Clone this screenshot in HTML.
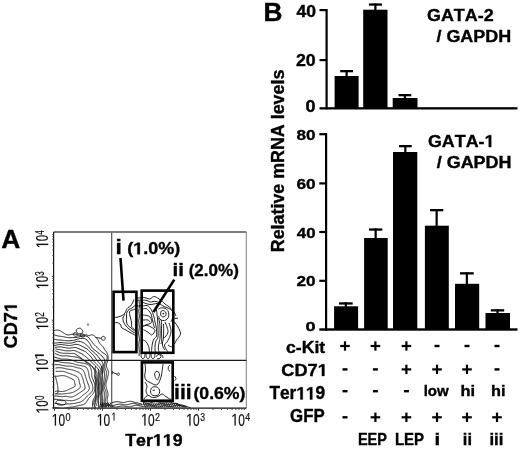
<!DOCTYPE html>
<html><head><meta charset="utf-8"><style>
html,body{margin:0;padding:0;background:#fff;}
svg{display:block;filter:grayscale(1);}
text{font-family:"Liberation Sans",sans-serif;}
text{font-kerning:none;}
.b text,.b path{stroke:#000;stroke-width:0.35px;}
.r text,.r path{stroke:#111;stroke-width:0.2px;}
</style></head><body>
<svg width="520" height="450" viewBox="0 0 520 450">
<rect width="520" height="450" fill="#fff"/>
<defs><clipPath id="plotclip"><rect x="54" y="233" width="191.5" height="174.8"/></clipPath></defs>
<g fill="none" stroke="#1a1a1a" stroke-width="0.95" stroke-linejoin="round" clip-path="url(#plotclip)">
<path d="M54.6 376.4 L54.7 376.5 L54.8 376.5 L54.9 376.5 L54.9 376.6 L55.0 376.6 L55.0 376.6 L55.0 376.6 L55.1 376.7 L55.1 376.7 L55.2 376.7 L55.2 376.7 L55.2 376.8 L55.3 376.8 L55.3 376.8 L55.3 376.9 L55.3 376.9 L55.4 376.9 L55.4 377.0 L55.4 377.0 L55.4 377.1 L55.5 377.1 L55.5 377.1 L55.5 377.2 L55.5 377.2 L55.6 377.2 L55.6 377.3 L55.6 377.3 L55.6 377.4 L55.6 377.4 L55.7 377.5 L55.7 377.5 L55.7 377.6 L55.7 377.6 L55.7 377.7 L55.7 377.7 L55.8 377.8 L55.8 377.8 L55.8 377.9 L55.8 377.9 L55.8 378.0 L55.9 378.1 L55.9 378.1 L55.9 378.2 L55.9 378.2 L55.9 378.3 L55.9 378.3 L56.0 378.4 L56.0 378.5 L56.0 378.5 L56.0 378.6 L56.0 378.7 L56.0 378.7 L56.0 378.8 L56.1 378.9 L56.1 379.0 L56.1 379.0 L56.1 379.1 L56.1 379.2 L56.1 379.3 L56.2 379.3 L56.2 379.4 L56.2 379.5 L56.2 379.6 L56.2 379.7 L56.2 379.7 L56.3 379.8 L56.3 379.9 L56.3 380.0 L56.3 380.1 L56.3 380.2 L56.4 380.3 L56.4 380.3 L56.4 380.4 L56.4 380.5 L56.5 380.6 L56.5 380.7 L56.5 380.8 L56.5 380.9 L56.5 381.0 L56.6 381.1 L56.6 381.2 L56.6 381.3 L56.7 381.4 L56.7 381.6 L56.7 381.7 L56.7 381.8 L56.8 381.9 L56.8 382.0 L56.8 382.2 L56.9 382.3 L56.9 382.4 L57.0 382.6 L57.0 382.7 L57.0 382.9 L57.1 383.0 L57.1 383.2 L57.2 383.4 L57.2 383.6 L57.3 383.9 L57.4 384.5 L57.5 385.0 L57.5 385.3 L57.6 385.6 L57.6 385.8 L57.6 386.1 L57.7 386.3 L57.7 386.5 L57.7 386.7 L57.7 386.9 L57.7 387.1 L57.8 387.3 L57.8 387.5 L57.8 387.7 L57.8 387.8 L57.8 388.0 L57.9 388.2 L57.9 388.3 L57.9 388.5 L57.9 388.6 L57.9 388.8 L57.9 388.9 L57.9 389.1 L58.0 389.2 L58.0 389.3 L58.0 389.5 L58.0 389.6 L58.0 389.7 L58.0 389.8 L58.0 390.0 L58.1 390.1 L58.1 390.2 L58.1 390.3 L58.1 390.4 L58.1 390.5 L58.1 390.6 L58.1 390.7 L58.1 390.8 L58.1 390.9 L58.1 391.0 L58.1 391.1 L58.1 391.2 L58.1 391.3 L58.1 391.4 L58.1 391.5 L58.1 391.6 L58.1 391.6 L58.1 391.7 L58.1 391.8 L58.1 391.9 L58.1 391.9 L58.1 392.0 L58.0 392.1 L58.0 392.1 L58.0 392.2 L58.0 392.3 L58.0 392.3 L57.9 392.4 L57.9 392.4 L57.9 392.5 L57.9 392.5 L57.8 392.6 L57.8 392.6 L57.8 392.7 L57.8 392.7 L57.7 392.8 L57.7 392.8 L57.7 392.9 L57.6 392.9 L57.6 392.9 L57.5 393.0 L57.5 393.0 L57.5 393.1 L57.4 393.1 L57.4 393.1 L57.3 393.1 L57.3 393.2 L57.2 393.2 L57.2 393.2 L57.1 393.3 L57.1 393.3 L57.0 393.3 L56.9 393.3 L56.9 393.4 L56.8 393.4 L56.8 393.4 L56.7 393.4 L56.6 393.5 L56.6 393.5 L56.5 393.5 L56.4 393.5 L56.3 393.5 L56.3 393.5 L56.2 393.6 L56.1 393.6 L56.0 393.6 L55.9 393.6 L55.7 393.6 L55.6 393.7 L55.3 393.7"/>
<path d="M54.8 375.8 L55.4 376.0 L55.7 376.2 L56.0 376.2 L56.4 376.3 L56.7 376.3 L57.0 376.3 L57.4 376.2 L57.8 376.2 L58.1 376.1 L58.5 376.1 L58.9 376.0 L59.4 375.9 L59.8 375.8 L60.2 375.8 L60.6 375.7 L61.0 375.7 L61.5 375.6 L61.9 375.6 L62.3 375.6 L62.7 375.6 L63.1 375.6 L63.5 375.7 L63.8 375.7 L64.2 375.8 L64.5 375.8 L64.9 375.9 L65.2 376.0 L65.5 376.0 L65.8 376.1 L66.1 376.2 L66.3 376.3 L66.6 376.4 L66.8 376.5 L67.1 376.6 L67.3 376.7 L67.5 376.8 L67.7 376.9 L67.9 377.0 L68.1 377.1 L68.3 377.2 L68.5 377.3 L68.7 377.4 L68.9 377.5 L69.1 377.6 L69.2 377.7 L69.4 377.7 L69.6 377.8 L69.8 377.9 L69.9 378.0 L70.1 378.0 L70.2 378.1 L70.4 378.2 L70.6 378.3 L70.7 378.3 L70.9 378.4 L71.0 378.5 L71.2 378.5 L71.3 378.6 L71.5 378.7 L71.6 378.7 L71.8 378.8 L71.9 378.9 L72.1 378.9 L72.2 379.0 L72.3 379.1 L72.5 379.2 L72.6 379.2 L72.7 379.3 L72.8 379.4 L73.0 379.4 L73.1 379.5 L73.2 379.6 L73.3 379.7 L73.4 379.8 L73.5 379.8 L73.6 379.9 L73.7 380.0 L73.8 380.1 L73.8 380.2 L73.9 380.3 L74.0 380.4 L74.1 380.5 L74.1 380.6 L74.2 380.7 L74.2 380.8 L74.3 380.9 L74.3 381.1 L74.4 381.2 L74.4 381.3 L74.5 381.4 L74.5 381.6 L74.6 381.7 L74.6 381.9 L74.6 382.1 L74.7 382.2 L74.7 382.4 L74.7 382.6 L74.8 382.9 L74.8 383.2 L74.9 383.7 L75.0 384.0 L75.0 384.2 L75.1 384.4 L75.1 384.5 L75.1 384.7 L75.1 384.8 L75.2 384.9 L75.2 385.1 L75.2 385.2 L75.2 385.3 L75.2 385.4 L75.1 385.5 L75.1 385.6 L75.1 385.7 L75.1 385.8 L75.0 385.9 L75.0 386.0 L75.0 386.1 L74.9 386.1 L74.9 386.2 L74.8 386.3 L74.7 386.4 L74.7 386.5 L74.6 386.5 L74.5 386.6 L74.4 386.7 L74.3 386.8 L74.2 386.8 L74.1 386.9 L74.0 387.0 L73.9 387.0 L73.8 387.1 L73.7 387.2 L73.5 387.3 L73.4 387.3 L73.2 387.4 L73.1 387.5 L72.9 387.5 L72.8 387.6 L72.6 387.7 L72.5 387.8 L72.3 387.8 L72.1 387.9 L71.9 388.0 L71.7 388.1 L71.5 388.2 L71.3 388.3 L71.1 388.4 L70.9 388.4 L70.7 388.5 L70.5 388.6 L70.3 388.7 L70.1 388.8 L69.9 388.9 L69.6 389.1 L69.4 389.2 L69.2 389.3 L69.0 389.4 L68.7 389.5 L68.5 389.6 L68.3 389.7 L68.0 389.8 L67.8 390.0 L67.6 390.1 L67.3 390.2 L67.1 390.3 L66.9 390.4 L66.6 390.5 L66.4 390.6 L66.1 390.7 L65.9 390.8 L65.6 390.9 L65.4 391.0 L65.1 391.1 L64.8 391.1 L64.5 391.2 L64.3 391.3 L64.0 391.3 L63.7 391.4 L63.3 391.4 L63.0 391.4 L62.7 391.5 L62.3 391.5 L62.0 391.5 L61.6 391.5 L61.3 391.5 L60.9 391.5 L60.5 391.4 L60.1 391.4 L59.7 391.4 L59.3 391.3 L58.9 391.3 L58.5 391.2 L58.1 391.2 L57.6 391.1 L57.2 391.1 L56.7 391.1 L56.2 391.2 L55.2 391.4"/>
<path d="M55.8 371.4 L56.8 371.3 L57.4 371.3 L57.8 371.3 L58.3 371.3 L58.7 371.3 L59.2 371.3 L59.7 371.3 L60.2 371.3 L60.6 371.3 L61.1 371.3 L61.6 371.3 L62.1 371.3 L62.6 371.4 L63.1 371.4 L63.5 371.5 L63.9 371.6 L64.4 371.7 L64.8 371.8 L65.1 371.9 L65.5 372.0 L65.9 372.2 L66.2 372.3 L66.5 372.4 L66.8 372.5 L67.2 372.7 L67.5 372.8 L67.7 372.9 L68.0 373.0 L68.3 373.1 L68.6 373.2 L68.9 373.3 L69.2 373.4 L69.5 373.5 L69.8 373.6 L70.1 373.7 L70.3 373.8 L70.6 373.9 L70.9 374.0 L71.2 374.1 L71.5 374.2 L71.7 374.3 L72.0 374.4 L72.3 374.5 L72.5 374.6 L72.8 374.7 L73.1 374.9 L73.3 375.0 L73.6 375.1 L73.8 375.1 L74.1 375.2 L74.3 375.3 L74.5 375.4 L74.7 375.5 L75.0 375.6 L75.2 375.7 L75.4 375.8 L75.6 375.9 L75.8 376.0 L76.0 376.1 L76.1 376.2 L76.3 376.3 L76.5 376.4 L76.7 376.5 L76.8 376.6 L77.0 376.7 L77.1 376.8 L77.2 376.9 L77.4 377.0 L77.5 377.1 L77.6 377.2 L77.7 377.3 L77.8 377.5 L77.9 377.6 L78.0 377.7 L78.1 377.9 L78.2 378.0 L78.3 378.1 L78.4 378.3 L78.5 378.4 L78.5 378.6 L78.6 378.8 L78.7 378.9 L78.7 379.1 L78.8 379.3 L78.8 379.5 L78.9 379.7 L78.9 379.8 L79.0 380.1 L79.0 380.3 L79.1 380.5 L79.1 380.7 L79.2 381.0 L79.2 381.2 L79.3 381.5 L79.3 381.7 L79.4 382.0 L79.4 382.4 L79.5 382.7 L79.6 383.2 L79.9 384.0 L80.0 384.4 L80.1 384.7 L80.2 385.0 L80.2 385.2 L80.3 385.4 L80.3 385.6 L80.3 385.8 L80.3 386.0 L80.3 386.2 L80.3 386.4 L80.3 386.5 L80.3 386.7 L80.3 386.8 L80.2 387.0 L80.2 387.1 L80.1 387.3 L80.1 387.4 L80.0 387.5 L79.9 387.7 L79.8 387.8 L79.7 387.9 L79.6 388.0 L79.5 388.2 L79.4 388.3 L79.3 388.4 L79.2 388.5 L79.1 388.7 L78.9 388.8 L78.8 388.9 L78.7 389.0 L78.5 389.1 L78.4 389.3 L78.2 389.4 L78.1 389.5 L77.9 389.6 L77.8 389.7 L77.6 389.8 L77.4 390.0 L77.2 390.1 L77.0 390.2 L76.9 390.3 L76.7 390.4 L76.5 390.6 L76.3 390.7 L76.1 390.8 L75.8 390.9 L75.6 391.0 L75.4 391.2 L75.2 391.3 L74.9 391.4 L74.7 391.5 L74.4 391.7 L74.2 391.8 L73.9 391.9 L73.7 392.0 L73.4 392.1 L73.1 392.2 L72.8 392.3 L72.5 392.5 L72.2 392.6 L71.9 392.7 L71.6 392.7 L71.3 392.8 L71.0 392.9 L70.7 393.0 L70.3 393.1 L70.0 393.1 L69.7 393.2 L69.4 393.2 L69.1 393.3 L68.7 393.3 L68.4 393.3 L68.1 393.4 L67.8 393.4 L67.5 393.4 L67.2 393.5 L66.9 393.5 L66.6 393.5 L66.3 393.5 L65.9 393.6 L65.6 393.6 L65.2 393.7 L64.9 393.7 L64.5 393.8 L64.1 393.8 L63.7 393.9 L63.3 393.9 L62.8 394.0 L62.4 394.0 L61.9 394.1 L61.4 394.1 L60.8 394.1 L60.3 394.0 L59.7 394.0 L59.0 393.9 L58.4 393.9 L57.6 393.8 L56.8 393.8 L55.3 394.0"/>
<path d="M55.5 368.1 L57.3 367.8 L58.2 367.7 L58.9 367.7 L59.5 367.7 L60.1 367.7 L60.7 367.8 L61.3 367.8 L61.9 367.9 L62.5 368.0 L63.0 368.1 L63.6 368.2 L64.1 368.3 L64.6 368.4 L65.0 368.5 L65.5 368.7 L66.0 368.8 L66.4 368.9 L66.8 369.0 L67.3 369.0 L67.7 369.1 L68.1 369.2 L68.6 369.3 L69.0 369.3 L69.4 369.4 L69.8 369.4 L70.2 369.5 L70.6 369.5 L71.0 369.6 L71.4 369.7 L71.8 369.7 L72.1 369.8 L72.4 369.9 L72.8 370.0 L73.1 370.1 L73.4 370.2 L73.7 370.3 L73.9 370.4 L74.2 370.5 L74.5 370.6 L74.7 370.7 L75.0 370.8 L75.3 370.9 L75.5 371.0 L75.8 371.1 L76.0 371.2 L76.2 371.3 L76.5 371.4 L76.7 371.5 L77.0 371.5 L77.2 371.6 L77.4 371.7 L77.7 371.8 L77.9 371.9 L78.1 372.0 L78.3 372.1 L78.6 372.2 L78.8 372.3 L79.0 372.4 L79.2 372.6 L79.4 372.7 L79.5 372.8 L79.7 373.0 L79.9 373.1 L80.1 373.3 L80.2 373.4 L80.4 373.6 L80.5 373.8 L80.7 374.0 L80.8 374.2 L81.0 374.4 L81.1 374.6 L81.2 374.8 L81.3 375.0 L81.5 375.2 L81.6 375.4 L81.7 375.7 L81.8 375.9 L81.9 376.2 L82.0 376.4 L82.1 376.7 L82.2 376.9 L82.3 377.2 L82.4 377.5 L82.5 377.7 L82.6 378.0 L82.7 378.3 L82.8 378.6 L82.9 378.9 L83.0 379.2 L83.1 379.6 L83.2 379.9 L83.3 380.2 L83.4 380.6 L83.5 381.0 L83.6 381.4 L83.7 381.8 L83.8 382.2 L83.9 382.7 L84.1 383.4 L84.5 384.5 L84.7 385.0 L84.8 385.5 L84.9 385.8 L85.0 386.2 L85.0 386.5 L85.1 386.7 L85.1 387.0 L85.1 387.2 L85.1 387.5 L85.1 387.7 L85.0 387.9 L85.0 388.1 L84.9 388.3 L84.9 388.5 L84.8 388.7 L84.7 388.9 L84.6 389.1 L84.4 389.2 L84.3 389.4 L84.2 389.6 L84.0 389.7 L83.8 389.9 L83.7 390.0 L83.5 390.2 L83.3 390.3 L83.1 390.5 L82.9 390.6 L82.7 390.8 L82.5 390.9 L82.3 391.1 L82.1 391.2 L81.8 391.4 L81.6 391.5 L81.4 391.6 L81.2 391.8 L80.9 391.9 L80.7 392.1 L80.5 392.2 L80.3 392.4 L80.0 392.5 L79.8 392.6 L79.6 392.8 L79.3 392.9 L79.1 393.1 L78.9 393.3 L78.6 393.4 L78.4 393.6 L78.1 393.7 L77.9 393.9 L77.6 394.1 L77.4 394.3 L77.1 394.5 L76.8 394.6 L76.6 394.8 L76.3 395.0 L76.0 395.2 L75.7 395.4 L75.4 395.6 L75.1 395.8 L74.7 395.9 L74.4 396.1 L74.1 396.3 L73.7 396.4 L73.4 396.6 L73.0 396.7 L72.7 396.8 L72.3 396.9 L71.9 397.0 L71.5 397.0 L71.1 397.0 L70.8 397.1 L70.4 397.1 L70.0 397.0 L69.6 397.0 L69.2 396.9 L68.8 396.8 L68.4 396.8 L68.0 396.7 L67.6 396.6 L67.2 396.5 L66.8 396.4 L66.4 396.4 L66.0 396.3 L65.6 396.3 L65.2 396.3 L64.8 396.3 L64.3 396.4 L63.9 396.5 L63.4 396.5 L62.9 396.6 L62.4 396.7 L61.9 396.7 L61.3 396.7 L60.6 396.6 L59.9 396.5 L59.0 396.3 L57.9 396.1 L56.7 396.0 L54.4 395.9"/>
<path d="M54.6 364.8 L57.1 364.7 L58.3 364.7 L59.2 364.8 L60.0 364.9 L60.7 365.0 L61.4 365.2 L62.0 365.3 L62.7 365.5 L63.3 365.6 L63.9 365.7 L64.5 365.8 L65.1 365.9 L65.7 365.9 L66.3 366.0 L66.8 366.0 L67.4 366.1 L67.9 366.1 L68.5 366.1 L69.0 366.1 L69.6 366.1 L70.1 366.2 L70.6 366.2 L71.1 366.2 L71.5 366.3 L72.0 366.3 L72.4 366.4 L72.8 366.5 L73.1 366.5 L73.5 366.6 L73.8 366.7 L74.1 366.8 L74.4 366.9 L74.6 367.0 L74.9 367.1 L75.2 367.2 L75.4 367.3 L75.7 367.4 L76.0 367.4 L76.3 367.5 L76.6 367.6 L76.9 367.6 L77.2 367.7 L77.6 367.8 L77.9 367.8 L78.3 367.9 L78.6 368.0 L79.0 368.1 L79.3 368.1 L79.7 368.2 L80.0 368.3 L80.3 368.4 L80.7 368.6 L81.0 368.7 L81.3 368.8 L81.6 369.0 L81.8 369.1 L82.1 369.3 L82.3 369.5 L82.6 369.7 L82.8 369.9 L83.0 370.1 L83.2 370.3 L83.3 370.5 L83.5 370.7 L83.7 371.0 L83.8 371.2 L83.9 371.5 L84.0 371.8 L84.2 372.0 L84.3 372.3 L84.4 372.6 L84.5 372.9 L84.6 373.2 L84.7 373.5 L84.8 373.8 L84.9 374.1 L85.0 374.4 L85.1 374.7 L85.2 375.0 L85.2 375.3 L85.3 375.6 L85.4 375.9 L85.5 376.3 L85.6 376.6 L85.7 376.9 L85.8 377.2 L85.9 377.5 L86.0 377.9 L86.1 378.2 L86.2 378.6 L86.3 378.9 L86.5 379.3 L86.6 379.7 L86.7 380.1 L86.9 380.6 L87.0 381.0 L87.2 381.6 L87.4 382.2 L87.7 382.9 L88.3 384.3 L88.6 385.0 L88.8 385.5 L88.9 385.9 L89.0 386.3 L89.1 386.7 L89.2 387.1 L89.3 387.4 L89.3 387.7 L89.3 388.0 L89.3 388.3 L89.3 388.6 L89.3 388.9 L89.2 389.1 L89.1 389.4 L89.0 389.7 L88.9 389.9 L88.8 390.1 L88.7 390.4 L88.5 390.6 L88.3 390.8 L88.1 391.0 L87.9 391.3 L87.7 391.5 L87.5 391.7 L87.3 391.9 L87.0 392.1 L86.8 392.3 L86.5 392.5 L86.2 392.7 L85.9 392.9 L85.7 393.1 L85.4 393.3 L85.1 393.5 L84.8 393.7 L84.6 393.9 L84.3 394.1 L84.0 394.4 L83.7 394.6 L83.5 394.8 L83.2 395.0 L83.0 395.2 L82.7 395.4 L82.5 395.6 L82.2 395.8 L82.0 396.0 L81.7 396.3 L81.5 396.5 L81.2 396.7 L81.0 396.9 L80.7 397.1 L80.4 397.3 L80.2 397.5 L79.9 397.7 L79.6 397.9 L79.3 398.2 L78.9 398.4 L78.6 398.6 L78.2 398.8 L77.9 399.0 L77.5 399.1 L77.1 399.3 L76.6 399.5 L76.2 399.7 L75.8 399.8 L75.3 400.0 L74.9 400.1 L74.4 400.3 L73.9 400.4 L73.4 400.5 L72.9 400.6 L72.5 400.7 L72.0 400.7 L71.5 400.7 L71.0 400.7 L70.5 400.7 L70.0 400.7 L69.6 400.6 L69.1 400.6 L68.6 400.5 L68.2 400.4 L67.7 400.4 L67.2 400.3 L66.8 400.3 L66.3 400.3 L65.8 400.3 L65.4 400.3 L64.9 400.4 L64.4 400.4 L63.9 400.5 L63.4 400.6 L62.9 400.6 L62.3 400.7 L61.7 400.6 L61.0 400.5 L60.2 400.3 L59.3 400.0 L58.1 399.7 L56.6 399.4 L54.1 399.2"/>
<path d="M54.2 361.1 L57.2 361.4 L58.6 361.7 L59.6 361.9 L60.4 362.1 L61.2 362.3 L61.9 362.4 L62.7 362.6 L63.4 362.7 L64.1 362.8 L64.8 362.8 L65.4 362.8 L66.1 362.9 L66.8 362.9 L67.4 362.9 L68.1 363.0 L68.7 363.0 L69.3 363.1 L70.0 363.1 L70.6 363.2 L71.1 363.3 L71.7 363.4 L72.2 363.5 L72.6 363.6 L73.1 363.7 L73.5 363.8 L73.8 363.9 L74.2 364.1 L74.5 364.2 L74.8 364.3 L75.1 364.4 L75.4 364.6 L75.7 364.7 L76.1 364.8 L76.4 364.9 L76.8 365.0 L77.2 365.0 L77.6 365.1 L78.0 365.2 L78.4 365.2 L78.8 365.3 L79.3 365.4 L79.8 365.4 L80.2 365.5 L80.7 365.6 L81.2 365.6 L81.6 365.7 L82.1 365.8 L82.5 365.9 L82.9 366.0 L83.3 366.1 L83.7 366.2 L84.1 366.3 L84.5 366.4 L84.8 366.6 L85.1 366.7 L85.4 366.9 L85.7 367.1 L86.0 367.2 L86.2 367.4 L86.5 367.6 L86.7 367.8 L86.9 368.0 L87.1 368.3 L87.2 368.5 L87.4 368.8 L87.5 369.1 L87.6 369.4 L87.7 369.7 L87.9 370.0 L88.0 370.3 L88.1 370.6 L88.1 371.0 L88.2 371.3 L88.3 371.7 L88.4 372.0 L88.5 372.4 L88.5 372.7 L88.6 373.1 L88.7 373.4 L88.7 373.8 L88.8 374.1 L88.8 374.5 L88.9 374.8 L89.0 375.1 L89.0 375.4 L89.1 375.7 L89.1 376.1 L89.2 376.4 L89.3 376.7 L89.3 377.0 L89.4 377.4 L89.5 377.7 L89.7 378.1 L89.8 378.5 L90.0 379.0 L90.2 379.5 L90.5 380.1 L90.8 380.9 L91.2 381.8 L91.9 383.5 L92.3 384.4 L92.5 385.1 L92.6 385.7 L92.7 386.2 L92.8 386.7 L92.9 387.1 L92.9 387.6 L92.9 388.0 L92.9 388.4 L92.8 388.8 L92.8 389.2 L92.7 389.5 L92.6 389.9 L92.5 390.2 L92.4 390.5 L92.2 390.9 L92.1 391.2 L91.9 391.5 L91.7 391.8 L91.5 392.0 L91.3 392.3 L91.1 392.6 L90.8 392.8 L90.6 393.1 L90.3 393.3 L90.0 393.6 L89.8 393.9 L89.5 394.1 L89.2 394.4 L88.9 394.6 L88.6 394.9 L88.3 395.1 L88.0 395.4 L87.7 395.7 L87.4 395.9 L87.1 396.2 L86.8 396.5 L86.5 396.8 L86.2 397.1 L85.9 397.4 L85.7 397.7 L85.4 398.0 L85.2 398.2 L84.9 398.5 L84.7 398.8 L84.4 399.1 L84.2 399.4 L84.0 399.6 L83.7 399.9 L83.5 400.1 L83.2 400.3 L83.0 400.5 L82.7 400.7 L82.4 400.9 L82.1 401.1 L81.8 401.3 L81.4 401.5 L81.1 401.6 L80.7 401.8 L80.3 401.9 L79.8 402.1 L79.4 402.2 L78.9 402.4 L78.4 402.5 L77.9 402.6 L77.4 402.8 L76.9 402.9 L76.4 403.0 L75.8 403.1 L75.3 403.2 L74.8 403.4 L74.2 403.5 L73.6 403.6 L73.1 403.6 L72.5 403.7 L71.9 403.8 L71.3 403.8 L70.7 403.8 L70.1 403.9 L69.6 403.9 L69.0 403.9 L68.4 403.9 L67.8 403.9 L67.3 403.9 L66.7 404.0 L66.1 404.1 L65.6 404.2 L65.0 404.3 L64.4 404.5 L63.8 404.6 L63.1 404.6 L62.4 404.6 L61.7 404.6 L60.9 404.4 L60.1 404.2 L59.1 403.9 L58.0 403.7 L56.7 403.5 L54.6 403.3"/>
<path d="M54.2 357.0 L57.3 357.9 L58.8 358.4 L59.9 358.7 L60.8 359.0 L61.7 359.1 L62.4 359.1 L63.2 359.2 L63.9 359.1 L64.7 359.1 L65.4 359.1 L66.1 359.1 L66.9 359.1 L67.6 359.2 L68.3 359.3 L69.0 359.4 L69.6 359.5 L70.3 359.7 L70.9 359.9 L71.5 360.0 L72.1 360.2 L72.6 360.4 L73.1 360.6 L73.6 360.8 L74.0 360.9 L74.4 361.1 L74.8 361.3 L75.2 361.5 L75.5 361.6 L75.9 361.8 L76.3 361.9 L76.7 362.0 L77.1 362.2 L77.5 362.3 L77.9 362.4 L78.4 362.5 L78.8 362.6 L79.3 362.6 L79.8 362.7 L80.3 362.8 L80.8 362.8 L81.3 362.9 L81.8 363.0 L82.3 363.1 L82.8 363.1 L83.2 363.2 L83.7 363.3 L84.2 363.4 L84.6 363.5 L85.0 363.6 L85.5 363.7 L85.9 363.8 L86.3 363.9 L86.6 364.1 L87.0 364.2 L87.3 364.3 L87.7 364.5 L88.0 364.6 L88.3 364.8 L88.5 365.0 L88.8 365.1 L89.0 365.3 L89.2 365.5 L89.4 365.7 L89.6 366.0 L89.8 366.2 L90.0 366.5 L90.2 366.8 L90.3 367.1 L90.4 367.4 L90.6 367.7 L90.7 368.1 L90.8 368.4 L90.9 368.8 L91.1 369.2 L91.2 369.6 L91.3 370.1 L91.3 370.5 L91.4 370.9 L91.5 371.4 L91.6 371.8 L91.6 372.3 L91.7 372.7 L91.7 373.1 L91.7 373.5 L91.7 373.9 L91.7 374.3 L91.7 374.7 L91.7 375.0 L91.7 375.4 L91.8 375.8 L91.8 376.1 L91.9 376.5 L92.0 376.9 L92.1 377.4 L92.3 377.8 L92.5 378.4 L92.8 379.1 L93.2 379.9 L93.7 381.0 L94.4 383.2 L94.7 384.4 L94.9 385.3 L95.0 386.0 L95.0 386.7 L95.0 387.3 L95.0 387.9 L95.0 388.5 L94.9 389.0 L94.8 389.5 L94.7 389.9 L94.6 390.4 L94.5 390.8 L94.3 391.3 L94.2 391.7 L94.0 392.0 L93.9 392.4 L93.7 392.8 L93.5 393.1 L93.2 393.4 L93.0 393.7 L92.7 394.1 L92.5 394.4 L92.2 394.7 L91.9 395.0 L91.6 395.3 L91.3 395.6 L91.0 395.9 L90.7 396.2 L90.4 396.6 L90.1 396.9 L89.7 397.3 L89.4 397.7 L89.1 398.0 L88.8 398.4 L88.5 398.8 L88.3 399.2 L88.0 399.6 L87.7 400.0 L87.5 400.4 L87.2 400.8 L87.0 401.1 L86.8 401.5 L86.5 401.8 L86.3 402.1 L86.1 402.4 L85.9 402.7 L85.7 403.0 L85.5 403.2 L85.3 403.4 L85.0 403.6 L84.8 403.8 L84.5 404.0 L84.2 404.2 L83.9 404.3 L83.6 404.4 L83.2 404.6 L82.9 404.7 L82.5 404.8 L82.1 404.9 L81.6 405.0 L81.2 405.1 L80.7 405.2 L80.2 405.3 L79.8 405.3 L79.3 405.4 L78.8 405.6 L78.3 405.7 L77.8 405.8 L77.3 405.9 L76.8 406.0 L76.3 406.2 L75.8 406.3 L75.3 406.4 L74.8 406.6 L74.2 406.7 L73.6 406.8 L73.1 406.9 L72.5 407.0 L71.9 407.1 L71.3 407.1 L70.7 407.2 L70.0 407.2 L69.4 407.3 L68.8 407.3 L68.2 407.4 L67.5 407.5 L66.8 407.6 L66.1 407.8 L65.3 407.9 L64.5 408.1 L63.7 408.3 L62.8 408.4 L61.8 408.4 L60.9 408.3 L59.9 408.1 L58.9 407.9 L57.8 407.7 L56.5 407.6 L54.2 407.5"/>
<path d="M54.8 353.4 L55.3 353.6 L56.1 353.9 L56.9 354.3 L57.8 354.7 L58.7 355.0 L59.5 355.4 L60.3 355.6 L61.0 355.8 L61.7 355.9 L62.3 356.0 L63.0 355.9 L63.6 355.9 L64.3 355.9 L65.0 355.9 L65.7 355.8 L66.5 355.8 L67.3 355.9 L68.1 356.0 L69.0 356.1 L69.9 356.2 L70.8 356.4 L71.7 356.5 L72.6 356.6 L73.4 356.7 L74.3 356.8 L75.1 356.9 L76.0 357.1 L76.9 357.2 L77.8 357.4 L78.7 357.7 L79.6 358.1 L80.5 358.6 L81.4 359.1 L82.4 359.7 L83.3 360.3 L84.2 360.9 L85.1 361.6 L86.1 362.2 L87.0 362.8 L87.9 363.3 L88.7 363.8 L89.5 364.4 L90.3 365.0 L91.0 365.7 L91.8 366.5 L92.5 367.3 L93.2 368.2 L93.9 369.2 L94.5 370.1 L94.9 370.9 L95.2 371.7 L95.3 372.4 L95.3 373.0 L95.2 373.6 L95.1 374.1 L94.9 374.6 L94.7 375.1 L94.6 375.5 L94.5 376.0 L94.5 376.4 L94.5 376.9 L94.6 377.4 L94.7 377.9 L94.9 378.5 L95.1 379.0 L95.2 379.6 L95.4 380.3 L95.6 380.9 L95.7 381.6 L95.9 382.3 L96.0 383.0 L96.1 383.7 L96.2 384.4 L96.2 385.1 L96.2 385.7 L96.2 386.4 L96.2 387.0 L96.1 387.7 L96.1 388.3 L96.1 388.9 L96.0 389.5 L96.0 390.1 L96.0 390.8 L96.0 391.4 L96.0 392.0 L95.9 392.6 L95.9 393.2 L95.8 393.8 L95.7 394.4 L95.5 395.0 L95.3 395.6 L95.1 396.2 L94.8 396.8 L94.5 397.4 L94.1 398.1 L93.8 398.7 L93.5 399.4 L93.2 400.1 L93.0 400.8 L92.8 401.6 L92.6 402.4 L92.5 403.2 L92.5 404.1 L92.5 405.0 L92.6 405.8 L92.7 406.6 L92.8 407.2 L92.8 407.8 L92.8 408.3 L92.9 408.6"/>
<path d="M55.3 350.8 L55.9 351.0 L56.6 351.3 L57.3 351.6 L58.1 352.0 L59.0 352.3 L59.7 352.6 L60.5 352.8 L61.2 353.0 L61.8 353.1 L62.5 353.2 L63.1 353.3 L63.7 353.3 L64.4 353.3 L65.1 353.3 L65.8 353.3 L66.6 353.3 L67.4 353.3 L68.1 353.3 L68.9 353.4 L69.7 353.4 L70.4 353.5 L71.0 353.5 L71.6 353.4 L72.2 353.4 L72.8 353.4 L73.3 353.4 L73.9 353.5 L74.5 353.7 L75.2 354.0 L76.0 354.5 L76.9 355.1 L77.9 355.8 L78.9 356.5 L80.0 357.3 L81.2 358.2 L82.4 359.1 L83.6 359.9 L84.9 360.8 L86.1 361.6 L87.3 362.3 L88.4 363.0 L89.5 363.7 L90.6 364.5 L91.5 365.4 L92.4 366.4 L93.4 367.5 L94.4 368.7 L95.3 369.9 L96.0 370.9 L96.5 371.8 L96.8 372.6 L97.0 373.3 L97.0 373.9 L96.9 374.4 L96.8 374.9 L96.6 375.4 L96.4 375.8 L96.3 376.3 L96.2 376.7 L96.2 377.2 L96.3 377.7 L96.3 378.2 L96.4 378.8 L96.5 379.3 L96.6 379.9 L96.7 380.6 L96.7 381.2 L96.8 381.9 L96.9 382.6 L97.0 383.4 L97.1 384.1 L97.2 384.8 L97.3 385.5 L97.4 386.2 L97.4 386.9 L97.5 387.6 L97.5 388.2 L97.5 388.9 L97.5 389.5 L97.4 390.1 L97.4 390.8 L97.3 391.4 L97.3 392.0 L97.2 392.7 L97.1 393.3 L97.0 393.9 L96.9 394.6 L96.7 395.2 L96.6 395.8 L96.4 396.5 L96.1 397.1 L95.9 397.7 L95.5 398.3 L95.2 398.9 L94.9 399.5 L94.6 400.1 L94.3 400.7 L94.0 401.4 L93.9 402.1 L93.8 402.8 L93.8 403.5 L93.9 404.2 L94.1 405.0 L94.4 405.7 L94.6 406.4 L94.9 407.0 L95.1 407.5 L95.3 408.0 L95.4 408.4 L95.5 408.7"/>
<path d="M55.4 348.7 L55.9 348.9 L56.6 349.1 L57.3 349.3 L58.1 349.4 L58.9 349.6 L59.6 349.7 L60.4 349.8 L61.2 349.9 L61.9 350.0 L62.6 350.2 L63.2 350.3 L63.9 350.5 L64.6 350.6 L65.4 350.7 L66.1 350.8 L66.9 350.8 L67.7 350.8 L68.4 350.8 L69.2 350.8 L70.0 350.8 L70.7 350.8 L71.4 350.7 L72.1 350.6 L72.8 350.5 L73.4 350.5 L74.1 350.6 L74.8 350.7 L75.5 350.9 L76.4 351.3 L77.3 351.7 L78.4 352.2 L79.6 352.8 L80.8 353.3 L82.0 354.0 L83.2 354.7 L84.3 355.6 L85.5 356.5 L86.6 357.4 L87.7 358.4 L88.7 359.3 L89.7 360.2 L90.7 361.1 L91.7 362.2 L92.6 363.2 L93.6 364.2 L94.6 365.2 L95.7 366.2 L96.6 367.2 L97.5 368.2 L98.2 369.1 L98.7 370.0 L99.0 370.7 L99.1 371.3 L99.1 371.9 L99.0 372.5 L98.8 373.0 L98.6 373.6 L98.4 374.1 L98.2 374.6 L98.0 375.1 L97.9 375.7 L97.7 376.2 L97.6 376.7 L97.5 377.2 L97.4 377.7 L97.4 378.2 L97.4 378.7 L97.4 379.3 L97.5 379.9 L97.6 380.5 L97.7 381.2 L97.9 381.9 L98.0 382.6 L98.2 383.4 L98.3 384.1 L98.4 384.9 L98.5 385.6 L98.6 386.3 L98.7 387.0 L98.7 387.7 L98.7 388.3 L98.7 388.9 L98.7 389.6 L98.7 390.2 L98.6 390.8 L98.6 391.4 L98.5 392.1 L98.4 392.7 L98.3 393.4 L98.2 394.0 L98.1 394.7 L97.9 395.4 L97.7 396.0 L97.5 396.6 L97.2 397.2 L96.9 397.9 L96.7 398.5 L96.4 399.1 L96.2 399.7 L96.0 400.3 L95.9 401.0 L95.8 401.7 L95.8 402.4 L95.9 403.1 L96.1 403.8 L96.3 404.4 L96.5 404.9 L96.7 405.4 L96.9 405.8 L97.0 406.1"/>
<path d="M54.9 347.1 L55.3 347.2 L55.9 347.2 L56.6 347.2 L57.4 347.1 L58.2 347.0 L59.0 346.9 L59.9 346.9 L60.7 346.9 L61.5 346.9 L62.3 347.1 L63.1 347.2 L63.9 347.4 L64.7 347.6 L65.5 347.7 L66.3 347.9 L67.1 348.0 L67.9 348.0 L68.8 348.1 L69.6 348.1 L70.4 348.0 L71.2 348.0 L72.0 347.8 L72.8 347.7 L73.6 347.6 L74.3 347.5 L75.1 347.5 L75.9 347.6 L76.8 347.9 L77.8 348.3 L79.0 348.8 L80.3 349.4 L81.6 349.9 L82.9 350.5 L84.2 351.0 L85.4 351.6 L86.4 352.3 L87.4 353.2 L88.4 354.2 L89.4 355.2 L90.3 356.1 L91.2 357.2 L92.2 358.4 L93.1 359.8 L94.0 361.3 L95.0 362.5 L96.0 363.6 L97.0 364.6 L97.9 365.4 L98.7 366.2 L99.4 367.0 L99.9 367.7 L100.3 368.4 L100.5 369.0 L100.7 369.5 L100.7 370.1 L100.7 370.6 L100.6 371.1 L100.5 371.6 L100.3 372.1 L100.2 372.7 L100.1 373.3 L99.9 373.8 L99.7 374.4 L99.5 375.0 L99.2 375.6 L99.0 376.1 L98.9 376.7 L98.7 377.2 L98.7 377.7 L98.6 378.3 L98.7 378.9 L98.7 379.5 L98.8 380.1 L98.9 380.8 L99.1 381.5 L99.2 382.2 L99.3 382.9 L99.4 383.6 L99.5 384.3 L99.6 385.0 L99.6 385.7 L99.7 386.4 L99.8 387.0 L99.9 387.7 L99.9 388.3 L100.0 388.9 L100.0 389.5 L100.0 390.0 L100.0 390.6 L99.9 391.3 L99.8 391.9 L99.7 392.5 L99.5 393.2 L99.3 393.9 L99.1 394.6 L98.9 395.3 L98.7 395.9 L98.6 396.6 L98.4 397.3 L98.3 398.0 L98.2 398.6 L98.1 399.3 L98.1 399.9 L98.1 400.5 L98.1 401.1 L98.1 401.7 L98.2 402.3 L98.3 402.9 L98.5 403.4 L98.6 403.9 L98.7 404.4 L98.9 405.0 L99.0 405.6 L99.1 406.1 L99.2 406.7 L99.3 407.2 L99.3 407.7 L99.3 408.2 L99.4 408.6 L99.4 408.9"/>
<path d="M54.0 345.4 L54.4 345.4 L55.0 345.4 L55.7 345.3 L56.5 345.1 L57.3 344.9 L58.3 344.7 L59.2 344.6 L60.2 344.5 L61.2 344.5 L62.1 344.6 L62.9 344.7 L63.7 344.8 L64.5 344.9 L65.3 345.1 L66.1 345.2 L66.9 345.3 L67.8 345.4 L68.7 345.5 L69.6 345.5 L70.5 345.4 L71.4 345.3 L72.4 345.1 L73.3 344.9 L74.2 344.6 L75.1 344.4 L76.1 344.3 L77.2 344.4 L78.3 344.6 L79.6 345.1 L80.9 345.7 L82.2 346.4 L83.6 347.1 L84.9 347.8 L86.0 348.4 L87.1 349.0 L88.0 349.8 L88.8 350.6 L89.6 351.4 L90.5 352.3 L91.4 353.2 L92.4 354.2 L93.5 355.4 L94.6 356.8 L95.6 358.4 L96.6 359.8 L97.6 361.1 L98.6 362.3 L99.4 363.2 L100.1 364.1 L100.7 364.9 L101.1 365.6 L101.4 366.2 L101.5 366.8 L101.7 367.3 L101.7 367.8 L101.8 368.3 L101.8 368.8 L101.8 369.3 L101.8 369.8 L101.8 370.3 L101.8 370.9 L101.8 371.4 L101.7 372.0 L101.6 372.6 L101.4 373.1 L101.2 373.7 L101.0 374.3 L100.8 374.9 L100.6 375.5 L100.5 376.1 L100.4 376.7 L100.4 377.3 L100.4 377.9 L100.4 378.6 L100.5 379.2 L100.5 379.9 L100.6 380.5 L100.6 381.2 L100.6 381.9 L100.6 382.6 L100.6 383.2 L100.7 383.9 L100.7 384.6 L100.8 385.3 L100.8 385.9 L100.9 386.5 L101.0 387.1 L101.1 387.7 L101.2 388.3 L101.2 388.8 L101.3 389.4 L101.2 389.9 L101.2 390.5 L101.1 391.1 L100.9 391.7 L100.8 392.4 L100.6 393.0 L100.5 393.7 L100.3 394.4 L100.2 395.1 L100.2 395.8 L100.2 396.5 L100.2 397.2 L100.2 397.9 L100.2 398.6 L100.3 399.2 L100.4 399.9 L100.4 400.5 L100.5 401.1 L100.5 401.6 L100.6 402.2 L100.6 402.8 L100.6 403.4 L100.7 404.0 L100.8 404.6 L100.8 405.1 L100.9 405.6 L100.9 406.1 L101.0 406.5 L101.0 406.8"/>
<path d="M53.3 343.0 L53.8 343.0 L54.4 343.1 L55.1 343.0 L55.9 343.0 L56.8 342.9 L57.8 342.8 L58.9 342.7 L60.0 342.6 L61.0 342.6 L62.0 342.7 L62.9 342.7 L63.7 342.8 L64.5 342.9 L65.3 343.0 L66.1 343.0 L66.9 343.1 L67.7 343.2 L68.6 343.2 L69.6 343.2 L70.6 343.2 L71.7 343.0 L72.8 342.8 L73.9 342.4 L75.0 342.0 L76.2 341.6 L77.4 341.3 L78.9 341.3 L80.4 341.5 L81.9 342.0 L83.4 342.7 L84.6 343.5 L85.8 344.4 L86.9 345.3 L87.8 346.1 L88.5 346.9 L89.2 347.7 L89.8 348.5 L90.4 349.3 L91.1 350.1 L92.0 350.8 L93.1 351.6 L94.3 352.7 L95.6 353.9 L96.9 355.2 L98.0 356.6 L99.1 357.9 L100.1 359.1 L101.0 360.3 L101.7 361.3 L102.2 362.2 L102.6 363.0 L102.8 363.6 L102.9 364.3 L102.9 364.9 L102.8 365.4 L102.8 366.0 L102.7 366.5 L102.7 367.0 L102.7 367.5 L102.8 368.1 L102.9 368.6 L102.9 369.1 L103.0 369.7 L103.0 370.2 L103.0 370.7 L102.9 371.3 L102.9 371.8 L102.8 372.4 L102.7 372.9 L102.6 373.5 L102.5 374.1 L102.5 374.7 L102.5 375.3 L102.4 376.0 L102.4 376.6 L102.4 377.3 L102.4 377.9 L102.4 378.6 L102.4 379.3 L102.4 380.0 L102.3 380.7 L102.2 381.4 L102.2 382.1 L102.1 382.8 L102.1 383.4 L102.0 384.1 L102.0 384.7 L102.0 385.4 L102.0 386.0 L102.1 386.6 L102.2 387.2 L102.2 387.7 L102.2 388.2 L102.3 388.8 L102.3 389.3 L102.3 389.8 L102.3 390.4 L102.2 390.9 L102.2 391.5 L102.2 392.1 L102.1 392.7 L102.1 393.3 L102.2 394.0 L102.2 394.7 L102.2 395.3 L102.3 396.0 L102.4 396.7 L102.4 397.4 L102.4 398.0 L102.5 398.7 L102.5 399.3 L102.5 400.0 L102.4 400.6 L102.4 401.2 L102.4 401.7 L102.4 402.3 L102.5 402.8 L102.5 403.3 L102.5 403.9 L102.5 404.4 L102.5 404.9 L102.5 405.6 L102.5 406.2 L102.4 406.8 L102.3 407.5 L102.2 408.1 L102.0 408.7 L101.9 409.3 L101.8 409.7 L101.7 410.1"/>
<path d="M53.4 339.0 L53.8 339.1 L54.4 339.3 L55.1 339.5 L55.9 339.7 L56.9 339.8 L57.8 339.9 L58.9 340.0 L59.9 340.0 L60.9 340.1 L61.9 340.2 L62.8 340.3 L63.7 340.4 L64.5 340.5 L65.3 340.6 L66.1 340.7 L66.9 340.8 L67.8 340.8 L68.8 340.8 L69.9 340.8 L71.0 340.7 L72.3 340.5 L73.6 340.3 L74.9 340.0 L76.2 339.6 L77.5 339.1 L79.1 338.7 L80.9 338.3 L82.7 338.3 L84.4 338.6 L85.8 339.2 L87.0 340.1 L88.0 341.1 L88.9 342.3 L89.7 343.4 L90.3 344.4 L90.8 345.4 L91.3 346.3 L91.7 347.2 L92.3 348.0 L93.1 348.8 L94.1 349.6 L95.3 350.5 L96.7 351.6 L98.1 352.7 L99.5 353.8 L100.7 354.9 L101.8 356.0 L102.8 357.0 L103.6 357.9 L104.2 358.8 L104.5 359.6 L104.7 360.3 L104.8 360.9 L104.7 361.6 L104.6 362.2 L104.4 362.8 L104.2 363.3 L104.0 363.9 L103.9 364.5 L103.8 365.0 L103.8 365.6 L103.8 366.2 L103.8 366.8 L103.8 367.3 L103.8 367.9 L103.9 368.4 L103.9 369.0 L104.0 369.5 L104.1 370.0 L104.2 370.6 L104.2 371.1 L104.3 371.6 L104.4 372.1 L104.4 372.7 L104.5 373.2 L104.5 373.8 L104.5 374.4 L104.5 375.0 L104.5 375.7 L104.4 376.3 L104.3 377.0 L104.3 377.7 L104.2 378.4 L104.1 379.1 L104.0 379.8 L103.9 380.6 L103.8 381.3 L103.7 382.0 L103.6 382.7 L103.5 383.4 L103.4 384.1 L103.3 384.7 L103.2 385.4 L103.2 386.0 L103.1 386.6 L103.1 387.1 L103.2 387.7 L103.2 388.2 L103.3 388.7 L103.4 389.3 L103.5 389.8 L103.7 390.3 L103.8 390.8 L103.9 391.3 L104.1 391.8 L104.2 392.4 L104.2 393.0 L104.3 393.5 L104.3 394.1 L104.3 394.8 L104.3 395.4 L104.3 396.1 L104.3 396.7 L104.3 397.4 L104.2 398.0 L104.2 398.7 L104.2 399.3 L104.1 399.9 L104.1 400.5 L104.1 401.1 L104.0 401.6 L104.0 402.3 L104.0 402.9 L104.0 403.6 L103.9 404.2 L103.9 404.9 L103.8 405.5 L103.8 406.0 L103.7 406.5 L103.7 406.9"/>
<path d="M53.5 334.6 L53.9 334.7 L54.5 334.9 L55.2 335.2 L55.9 335.4 L56.8 335.7 L57.7 335.9 L58.7 336.1 L59.6 336.2 L60.6 336.3 L61.6 336.5 L62.5 336.6 L63.3 336.7 L64.1 336.9 L64.9 337.1 L65.7 337.2 L66.5 337.4 L67.5 337.5 L68.6 337.6 L69.8 337.7 L71.1 337.7 L72.7 337.6 L74.3 337.5 L75.8 337.4 L77.2 337.3 L78.6 337.0 L80.2 336.6 L82.2 336.2 L84.1 335.9 L85.7 335.9 L87.0 336.3 L88.1 337.1 L89.1 338.1 L90.0 339.3 L90.9 340.5 L91.8 341.6 L92.6 342.7 L93.4 343.7 L94.1 344.6 L94.9 345.4 L95.8 346.3 L96.9 347.2 L98.0 348.3 L99.1 349.5 L100.2 350.6 L101.4 351.6 L102.6 352.5 L103.8 353.3 L104.9 354.0 L105.8 354.7 L106.4 355.5 L106.9 356.2 L107.1 356.8 L107.2 357.4 L107.2 358.0 L107.0 358.6 L106.8 359.1 L106.6 359.7 L106.3 360.3 L106.1 360.9 L105.9 361.5 L105.7 362.2 L105.5 362.8 L105.3 363.4 L105.1 364.1 L105.0 364.7 L104.9 365.3 L104.8 365.9 L104.8 366.4 L104.8 367.0 L104.9 367.6 L105.1 368.1 L105.2 368.6 L105.4 369.2 L105.7 369.7 L105.9 370.2 L106.0 370.7 L106.2 371.2 L106.3 371.7 L106.3 372.3 L106.4 372.8 L106.3 373.4 L106.3 373.9 L106.3 374.5 L106.2 375.1 L106.2 375.8 L106.1 376.5 L106.0 377.2 L105.9 377.9 L105.8 378.6 L105.7 379.3 L105.5 380.1 L105.3 380.8 L105.1 381.5 L104.9 382.2 L104.7 383.0 L104.6 383.7 L104.4 384.3 L104.3 385.0 L104.2 385.7 L104.2 386.3 L104.3 386.9 L104.4 387.5 L104.5 388.1 L104.7 388.6 L104.9 389.2 L105.1 389.7 L105.3 390.2 L105.5 390.7 L105.7 391.2 L105.8 391.7 L105.9 392.2 L106.0 392.7 L106.1 393.2 L106.1 393.7 L106.1 394.3 L106.1 394.8 L106.1 395.4 L106.1 396.0 L106.1 396.6 L106.0 397.2 L105.9 397.8 L105.8 398.4 L105.7 399.0 L105.5 399.6 L105.4 400.2 L105.3 400.8 L105.2 401.4 L105.2 402.0 L105.2 402.5 L105.2 403.1 L105.3 403.7 L105.4 404.3 L105.5 405.0 L105.6 405.7 L105.7 406.5 L105.8 407.2 L105.9 407.9 L105.9 408.5 L105.9 409.1 L105.9 409.5"/>
<path d="M53.3 330.8 L53.7 330.7 L54.1 330.6 L54.6 330.5 L55.1 330.4 L55.7 330.2 L56.4 330.1 L57.1 330.1 L57.8 330.1 L58.5 330.1 L59.2 330.3 L59.9 330.5 L60.6 330.9 L61.3 331.3 L62.1 331.9 L62.9 332.4 L63.7 333.0 L64.5 333.5 L65.4 334.0 L66.3 334.5 L67.2 334.8 L68.0 334.9 L68.9 334.9 L69.7 334.8 L70.5 334.6 L71.3 334.5 L72.1 334.3 L73.0 334.1 L74.0 334.1 L74.9 334.1 L75.9 334.3 L76.8 334.5 L77.8 334.8 L78.8 335.1 L80.1 335.2 L81.5 335.2 L83.1 335.0 L84.5 334.9 L85.8 334.9 L86.8 335.0 L87.6 335.3 L88.2 335.5 L88.8 335.6 L89.3 335.6 L89.7 335.5 L90.0 335.3 L90.4 335.2 L90.7 335.0 L91.1 334.9 L91.5 334.8 L91.9 334.8 L92.5 334.9 L93.0 335.1 L93.5 335.4 L94.1 335.8 L94.6 336.1 L95.2 336.6 L95.7 337.0 L96.2 337.5 L96.6 338.0 L97.0 338.5 L97.4 338.9 L97.7 339.4 L98.0 340.0 L98.3 340.5 L98.5 341.0 L98.7 341.6 L99.0 342.1 L99.3 342.6 L99.6 343.1 L100.0 343.6 L100.4 344.1 L100.9 344.6 L101.4 345.1 L101.8 345.5 L102.3 346.0 L102.8 346.5 L103.2 347.0 L103.5 347.5 L103.8 347.9 L104.0 348.4 L104.2 348.8 L104.4 349.2 L104.7 349.6 L104.9 349.9 L105.1 350.3 L105.4 350.6 L105.7 350.9 L106.0 351.3 L106.3 351.7 L106.6 352.1 L106.9 352.7 L107.2 353.3 L107.5 354.0 L107.7 354.8 L107.9 355.6 L108.0 356.4 L108.1 357.2 L108.1 358.0 L108.1 358.7 L108.1 359.5 L107.9 360.2 L107.7 360.8 L107.5 361.5 L107.3 362.2 L107.0 362.8 L106.8 363.4 L106.6 364.1 L106.5 364.7 L106.4 365.3 L106.4 365.9 L106.5 366.4 L106.6 367.0 L106.8 367.6 L107.1 368.2 L107.3 368.7 L107.6 369.2 L107.9 369.8 L108.1 370.3 L108.2 370.8 L108.3 371.3 L108.4 371.8 L108.4 372.4 L108.4 372.9 L108.4 373.4 L108.3 374.0 L108.2 374.6 L108.1 375.2 L108.0 375.8 L107.8 376.4 L107.7 377.1 L107.5 377.8 L107.3 378.5 L107.1 379.2 L106.9 379.9 L106.7 380.6 L106.5 381.3 L106.3 382.0 L106.1 382.8 L106.0 383.4 L105.9 384.1 L105.9 384.8 L105.9 385.5 L106.0 386.1 L106.1 386.8 L106.2 387.4 L106.3 388.0 L106.5 388.6 L106.7 389.2 L106.9 389.8 L107.1 390.4 L107.3 390.9 L107.4 391.4 L107.6 391.9 L107.7 392.4 L107.8 392.9 L107.9 393.3 L108.0 393.8 L108.0 394.3 L108.0 394.8 L108.0 395.3 L107.9 395.8 L107.8 396.4 L107.7 396.9 L107.6 397.5 L107.4 398.0 L107.3 398.6 L107.2 399.1 L107.1 399.6 L107.1 400.2 L107.1 400.7 L107.2 401.2 L107.3 401.8 L107.5 402.5 L107.7 403.1 L107.8 403.8 L108.0 404.5 L108.2 405.2 L108.3 405.8 L108.3 406.4 L108.4 406.8"/>
<path d="M95.5 366.0 L95.4 366.9 L95.3 367.7 L95.2 368.6 L95.1 369.4 L95.0 370.3 L95.0 371.1 L94.9 372.0 L94.9 372.9 L94.9 373.7 L95.0 374.6 L95.1 375.4 L95.3 376.3 L95.4 377.1 L95.6 378.0 L95.7 378.9 L95.8 379.7 L95.9 380.6 L95.9 381.4 L95.9 382.3 L95.8 383.1 L95.7 384.0 L95.6 384.9 L95.5 385.7 L95.4 386.6 L95.3 387.4 L95.3 388.3 L95.3 389.1 L95.3 390.0 L95.4 390.9 L95.5 391.7 L95.6 392.6 L95.7 393.4 L95.7 394.3 L95.8 395.1 L95.8 396.0 L95.8 396.9 L95.7 397.7 L95.6 398.6 L95.5 399.4 L95.4 400.3 L95.2 401.1 L95.1 402.0 L95.0 402.9 L94.9 403.7 L94.8 404.6 L94.8 405.4 L94.9 406.3 L95.0 407.1 L95.1 408.0"/>
<path d="M98.2 369.0 L98.3 369.8 L98.3 370.6 L98.5 371.4 L98.6 372.2 L98.7 373.0 L98.9 373.8 L99.0 374.6 L99.1 375.4 L99.1 376.2 L99.2 377.0 L99.1 377.8 L99.1 378.6 L99.0 379.3 L98.9 380.1 L98.8 380.9 L98.7 381.7 L98.6 382.5 L98.5 383.3 L98.5 384.1 L98.5 384.9 L98.5 385.7 L98.5 386.5 L98.6 387.3 L98.7 388.1 L98.7 388.9 L98.8 389.7 L98.9 390.5 L98.9 391.3 L98.9 392.1 L98.9 392.9 L98.8 393.7 L98.7 394.5 L98.6 395.3 L98.5 396.1 L98.3 396.9 L98.2 397.7 L98.1 398.4 L98.0 399.2 L98.0 400.0 L98.0 400.8 L98.1 401.6 L98.1 402.4 L98.2 403.2 L98.3 404.0 L98.5 404.8 L98.6 405.6 L98.7 406.4 L98.8 407.2 L98.8 408.0"/>
<path d="M101.6 366.0 L101.7 366.9 L101.8 367.7 L102.0 368.6 L102.1 369.4 L102.2 370.3 L102.3 371.1 L102.4 372.0 L102.4 372.9 L102.4 373.7 L102.3 374.6 L102.2 375.4 L102.0 376.3 L101.9 377.1 L101.8 378.0 L101.7 378.9 L101.6 379.7 L101.6 380.6 L101.6 381.4 L101.6 382.3 L101.7 383.1 L101.8 384.0 L101.9 384.9 L102.0 385.7 L102.0 386.6 L102.0 387.4 L102.0 388.3 L102.0 389.1 L101.9 390.0 L101.8 390.9 L101.6 391.7 L101.5 392.6 L101.4 393.4 L101.3 394.3 L101.2 395.1 L101.2 396.0 L101.2 396.9 L101.3 397.7 L101.4 398.6 L101.5 399.4 L101.7 400.3 L101.8 401.1 L101.9 402.0 L102.0 402.9 L102.1 403.7 L102.1 404.6 L102.1 405.4 L102.0 406.3 L101.9 407.1 L101.9 408.0"/>
<path d="M82.7 331.0 L82.9 331.6 L82.8 332.2 L82.4 332.7 L81.8 333.1 L81.0 333.5 L80.1 333.7 L79.3 333.8 L78.6 333.8 L78.1 333.6 L77.8 333.3 L77.5 332.9 L77.2 332.4 L76.8 331.9 L76.4 331.3 L76.2 330.7 L76.1 330.1 L76.4 329.6 L76.9 329.1 L77.6 328.7 L78.5 328.4 L79.3 328.2 L80.1 328.2 L80.6 328.3 L81.0 328.5 L81.4 328.9 L81.7 329.3 L82.0 329.8 L82.4 330.4 L82.7 331.0Z"/>
<path d="M77.7 334.5 L77.9 334.9 L77.9 335.3 L77.6 335.6 L77.1 335.9 L76.5 336.1 L75.8 336.2 L75.2 336.3 L74.8 336.3 L74.5 336.2 L74.4 336.0 L74.2 335.7 L74.0 335.4 L73.7 335.1 L73.4 334.7 L73.2 334.3 L73.1 333.9 L73.2 333.6 L73.6 333.3 L74.2 333.0 L74.9 332.8 L75.5 332.7 L76.0 332.7 L76.4 332.8 L76.6 332.9 L76.7 333.1 L76.9 333.4 L77.1 333.7 L77.4 334.1 L77.7 334.5Z"/>
<path d="M84.5 335.5 L84.7 335.8 L84.7 336.2 L84.5 336.5 L84.0 336.7 L83.4 336.9 L82.8 337.0 L82.2 337.1 L81.8 337.1 L81.6 337.0 L81.5 336.8 L81.4 336.6 L81.2 336.3 L80.9 336.0 L80.6 335.7 L80.4 335.3 L80.3 335.0 L80.4 334.7 L80.7 334.4 L81.3 334.2 L81.9 334.0 L82.5 333.9 L83.0 333.9 L83.3 334.0 L83.5 334.1 L83.6 334.3 L83.7 334.5 L83.9 334.8 L84.2 335.2 L84.5 335.5Z"/>
<path d="M95.5 337.5 L101.4 338.3"/>
<path d="M66.0 402.5 L65.9 403.1 L65.5 403.6 L65.0 404.1 L64.2 404.5 L63.3 404.8 L62.3 405.0 L61.3 405.1 L60.2 405.1 L59.1 404.9 L58.2 404.7 L57.4 404.3 L56.7 403.8 L56.3 403.3 L56.0 402.8 L56.0 402.2 L56.3 401.7 L56.7 401.2 L57.4 400.7 L58.2 400.3 L59.1 400.1 L60.2 399.9 L61.3 399.9 L62.3 400.0 L63.3 400.2 L64.2 400.5 L65.0 400.9 L65.5 401.4 L65.9 401.9 L66.0 402.5Z"/>
<path d="M134.0 299.5 C133.8 300.1 133.1 301.9 132.5 303.0 C131.9 304.1 131.2 305.2 130.5 306.0 C129.8 306.8 128.7 306.9 128.0 307.5 C127.3 308.1 127.0 308.6 126.5 309.5 C126.0 310.4 125.8 312.0 125.0 313.0 C124.2 314.0 123.2 314.8 122.0 315.5 C120.8 316.2 119.2 316.7 118.0 317.0 C116.8 317.3 115.1 317.4 114.5 317.5"/>
<path d="M135.5 305.0 C134.9 305.5 133.1 307.2 132.0 308.0 C130.9 308.8 129.8 308.8 129.0 309.5 C128.2 310.2 127.4 310.9 127.0 312.0 C126.6 313.1 126.6 314.3 126.5 316.0 C126.4 317.7 126.2 320.4 126.5 322.0 C126.8 323.6 127.2 324.5 128.0 325.5 C128.8 326.5 130.0 327.2 131.0 328.0 C132.0 328.8 133.2 329.9 134.0 330.5 C134.8 331.1 135.7 331.3 136.0 331.5"/>
<path d="M135.5 309.0 C134.8 309.2 132.0 310.0 131.0 310.5 C130.0 311.0 129.7 311.1 129.5 312.0 C129.3 312.9 129.7 314.3 130.0 316.0 C130.3 317.7 131.2 320.3 131.5 322.0 C131.8 323.7 131.2 324.9 131.5 326.0 C131.8 327.1 132.2 327.8 133.0 328.5 C133.8 329.2 135.5 329.8 136.0 330.0"/>
<path d="M125.0 314.0 C124.7 314.7 123.2 316.7 123.0 318.0 C122.8 319.3 123.0 320.7 123.5 322.0 C124.0 323.3 125.1 324.8 126.0 326.0 C126.9 327.2 127.8 328.0 129.0 329.0 C130.2 330.0 131.8 331.2 133.0 332.0 C134.2 332.8 135.5 333.2 136.0 333.5"/>
<path d="M114.5 323.0 C114.9 322.9 116.1 322.3 117.0 322.5 C117.9 322.7 119.3 323.4 120.0 324.0 C120.7 324.6 120.7 325.3 121.0 326.0 C121.3 326.7 121.2 327.3 122.0 328.0 C122.8 328.7 124.7 329.2 126.0 330.0 C127.3 330.8 128.7 331.8 130.0 332.5 C131.3 333.2 133.0 333.9 134.0 334.5 C135.0 335.1 135.7 335.8 136.0 336.0"/>
<path d="M136.0 298.3 L142.0 297.6"/>
<path d="M136.0 300.3 L142.0 300.2"/>
<path d="M136.0 306.0 L142.0 305.8"/>
<path d="M139.0 301.0 C139.1 301.8 139.5 304.3 139.5 306.0 C139.5 307.7 138.8 309.3 138.8 311.0 C138.8 312.7 139.4 314.3 139.4 316.0 C139.4 317.7 138.7 319.2 138.7 321.0 C138.7 322.8 139.3 325.0 139.3 327.0 C139.3 329.0 138.6 331.0 138.6 333.0 C138.6 335.0 139.4 337.0 139.4 339.0 C139.4 341.0 138.8 343.0 138.8 345.0 C138.8 347.0 139.3 349.2 139.3 351.0 C139.3 352.8 139.1 355.2 139.0 356.0"/>
<path d="M142.5 297.3 C143.1 297.4 144.8 297.7 146.0 298.0 C147.2 298.3 148.9 299.2 150.0 299.0 C151.1 298.8 151.7 297.4 152.5 297.0 C153.3 296.6 154.2 296.5 155.0 296.7 C155.8 296.9 156.7 297.5 157.5 298.0 C158.3 298.5 159.2 298.9 160.0 299.5 C160.8 300.1 161.7 300.8 162.5 301.5 C163.3 302.2 164.1 303.2 165.0 304.0 C165.9 304.8 167.0 305.2 168.0 306.0 C169.0 306.8 170.0 307.5 171.0 308.5 C172.0 309.5 173.2 310.8 174.0 312.0 C174.8 313.2 175.7 315.3 176.0 316.0"/>
<path d="M142.5 300.0 C143.2 300.1 145.8 300.2 147.0 300.5 C148.2 300.8 149.0 301.8 150.0 302.0 C151.0 302.2 152.0 301.6 153.0 301.5 C154.0 301.4 155.1 301.3 156.0 301.5 C156.9 301.7 157.8 302.1 158.5 302.5 C159.2 302.9 160.2 303.8 160.5 304.0"/>
<path d="M142.5 302.3 C143.1 302.5 144.8 303.1 146.0 303.5 C147.2 303.9 148.7 304.4 150.0 304.5 C151.3 304.6 152.8 304.2 154.0 304.0 C155.2 303.8 156.2 303.3 157.0 303.5 C157.8 303.7 158.7 304.8 159.0 305.0"/>
<path d="M143.0 306.0 C143.7 305.9 145.8 305.2 147.0 305.5 C148.2 305.8 149.2 307.1 150.0 308.0 C150.8 308.9 151.5 310.0 152.0 311.0 C152.5 312.0 152.7 313.0 153.0 314.0 C153.3 315.0 153.7 315.7 154.0 317.0 C154.3 318.3 154.6 320.2 155.0 322.0 C155.4 323.8 156.1 325.7 156.3 328.0 C156.6 330.3 156.9 334.2 156.5 336.0 C156.1 337.8 154.7 337.8 154.0 339.0 C153.3 340.2 152.9 341.5 152.5 343.0 C152.1 344.5 152.0 346.5 151.8 348.0 C151.6 349.5 151.6 351.3 151.5 352.0"/>
<path d="M143.0 309.0 C143.5 308.9 145.0 308.2 146.0 308.5 C147.0 308.8 148.2 310.1 149.0 311.0 C149.8 311.9 150.5 312.8 151.0 314.0 C151.5 315.2 151.7 316.7 152.0 318.0 C152.3 319.3 152.6 320.3 153.0 322.0 C153.4 323.7 154.2 327.0 154.5 328.0"/>
<path d="M143.0 315.0 C143.7 315.1 145.8 315.2 147.0 315.5 C148.2 315.8 149.2 316.2 150.0 317.0 C150.8 317.8 151.2 319.2 151.5 320.0 C151.8 320.8 152.2 321.4 152.0 322.0 C151.8 322.6 150.8 323.1 150.0 323.5 C149.2 323.9 148.2 324.1 147.0 324.5 C145.8 324.9 143.7 325.8 143.0 326.0"/>
<path d="M143.0 320.0 C143.8 320.0 146.8 319.7 148.0 320.0 C149.2 320.3 149.7 321.7 150.0 322.0"/>
<path d="M143.0 326.5 C143.7 326.3 145.7 325.2 147.0 325.3 C148.3 325.4 149.8 326.4 151.0 327.0 C152.2 327.6 153.3 328.3 154.0 329.0 C154.7 329.7 155.2 330.2 155.0 331.0 C154.8 331.8 153.6 333.3 153.0 334.0 C152.4 334.7 152.2 335.2 151.5 335.0 C150.8 334.8 149.9 333.7 149.0 333.0 C148.1 332.3 147.0 331.6 146.0 331.0 C145.0 330.4 143.5 329.8 143.0 329.5"/>
<path d="M143.0 340.0 C143.5 340.2 145.2 340.7 146.0 341.5 C146.8 342.3 147.5 343.9 148.0 345.0 C148.5 346.1 148.8 346.8 149.0 348.0 C149.2 349.2 149.4 351.3 149.5 352.0"/>
<path d="M156.3 309.0 C156.4 309.8 156.8 312.2 157.0 314.0 C157.2 315.8 157.4 317.7 157.6 320.0 C157.8 322.3 157.9 325.2 158.0 328.0 C158.1 330.8 158.3 334.8 158.0 337.0 C157.7 339.2 156.5 339.5 156.0 341.0 C155.5 342.5 155.1 344.2 155.0 346.0 C154.9 347.8 155.2 351.0 155.2 352.0"/>
<path d="M158.5 318.0 C158.7 318.7 159.2 320.3 159.5 322.0 C159.8 323.7 159.9 325.3 160.0 328.0 C160.1 330.7 160.2 335.5 160.0 338.0 C159.8 340.5 159.3 341.3 159.0 343.0 C158.7 344.7 158.3 346.5 158.3 348.0 C158.3 349.5 158.9 351.3 159.0 352.0"/>
<path d="M161.3 320.0 C161.4 321.0 161.6 324.0 161.6 326.0 C161.6 328.0 161.5 329.7 161.5 332.0 C161.5 334.3 161.8 338.0 161.7 340.0 C161.6 342.0 161.1 343.3 161.0 344.0"/>
<path d="M163.5 324.0 C163.5 325.0 163.7 327.7 163.7 330.0 C163.7 332.3 163.6 335.8 163.4 338.0 C163.2 340.2 162.6 341.5 162.5 343.0 C162.4 344.5 162.6 345.8 163.0 347.0 C163.4 348.2 164.7 349.5 165.0 350.0"/>
<path d="M161.3 311.0 C161.7 310.9 162.8 310.4 163.5 310.6 C164.2 310.8 165.2 311.4 165.6 312.0 C166.0 312.6 166.1 313.6 166.0 314.3 C165.9 315.1 165.4 316.1 164.8 316.5 C164.2 316.9 163.2 317.0 162.5 316.8 C161.8 316.6 161.1 316.0 160.8 315.3 C160.5 314.6 160.6 313.5 160.7 312.8 C160.8 312.1 161.2 311.3 161.3 311.0"/>
<path d="M158.5 309.0 C159.0 308.8 160.4 307.9 161.5 307.8 C162.6 307.7 163.9 307.9 165.0 308.3 C166.1 308.8 167.2 309.6 167.8 310.5 C168.4 311.4 168.7 312.8 168.8 314.0 C168.9 315.2 168.8 316.5 168.3 317.5 C167.8 318.5 167.0 319.5 166.0 320.0 C165.0 320.5 163.5 320.7 162.5 320.5 C161.5 320.3 160.5 319.8 159.8 319.0 C159.1 318.2 158.7 316.5 158.5 316.0"/>
<path d="M160.0 304.0 C160.7 304.4 162.7 305.8 164.0 306.5 C165.3 307.2 166.8 307.4 168.0 308.0 C169.2 308.6 170.7 309.2 171.5 310.0 C172.3 310.8 172.8 311.7 173.0 313.0 C173.2 314.3 172.8 316.5 172.5 318.0 C172.2 319.5 171.2 321.3 171.0 322.0"/>
<path d="M165.0 322.0 C165.3 322.8 166.5 325.3 167.0 327.0 C167.5 328.7 168.2 330.5 168.0 332.0 C167.8 333.5 166.7 335.0 166.0 336.0 C165.3 337.0 164.3 337.7 164.0 338.0"/>
<path d="M169.0 323.0 C169.3 324.2 170.8 327.8 171.0 330.0 C171.2 332.2 170.7 334.0 170.0 336.0 C169.3 338.0 167.9 340.5 167.0 342.0 C166.1 343.5 164.7 343.8 164.5 345.0 C164.3 346.2 165.4 347.8 166.0 349.0 C166.6 350.2 167.7 351.5 168.0 352.0"/>
<path d="M168.0 345.0 C168.4 345.2 169.7 346.2 170.5 346.5 C171.3 346.8 172.6 346.9 173.0 347.0"/>
<path d="M174.5 318.5 L178.0 318.2"/>
<path d="M174.5 322.0 C175.1 322.8 177.0 325.2 178.0 327.0 C179.0 328.8 180.3 331.3 180.5 333.0 C180.7 334.7 179.7 335.8 179.0 337.0 C178.3 338.2 177.2 338.8 176.5 340.0 C175.8 341.2 174.8 343.3 174.5 344.0"/>
<path d="M141.0 354.0 C141.1 354.6 141.2 356.8 141.5 357.5 C141.8 358.2 142.5 358.5 143.0 358.5 C143.5 358.5 144.2 358.2 144.5 357.5 C144.8 356.8 144.9 354.6 145.0 354.0"/>
<path d="M146.0 354.0 C146.1 354.6 146.2 356.8 146.5 357.5 C146.8 358.2 147.5 358.5 148.0 358.5 C148.5 358.5 149.2 358.2 149.5 357.5 C149.8 356.8 149.9 354.6 150.0 354.0"/>
<path d="M151.0 354.0 C151.1 354.6 151.2 356.8 151.5 357.5 C151.8 358.2 152.5 358.5 153.0 358.5 C153.5 358.5 154.2 358.2 154.5 357.5 C154.8 356.8 154.9 354.6 155.0 354.0"/>
<path d="M156.0 357.0 C156.3 356.6 157.3 354.8 158.0 354.5 C158.7 354.2 159.5 354.6 160.0 355.0 C160.5 355.4 161.2 356.4 161.0 357.0 C160.8 357.6 159.7 358.6 159.0 358.8 C158.3 359.1 157.3 358.6 157.0 358.5"/>
<path d="M160.0 354.5 C160.4 354.7 162.0 354.9 162.5 355.5 C163.0 356.1 162.9 357.6 163.0 358.0"/>
<path d="M145.0 364.0 C145.1 365.0 145.6 368.0 145.5 370.0 C145.4 372.0 144.6 374.3 144.7 376.0 C144.8 377.7 145.3 379.0 146.0 380.0 C146.7 381.0 148.0 381.4 149.0 382.0 C150.0 382.6 151.0 383.0 152.0 383.5 C153.0 384.0 154.0 384.9 155.0 385.0 C156.0 385.1 157.2 384.8 158.0 384.0 C158.8 383.2 159.4 381.5 160.0 380.0 C160.6 378.5 161.1 377.0 161.5 375.0 C161.9 373.0 162.2 369.8 162.5 368.0 C162.8 366.2 162.9 364.7 163.0 364.0"/>
<path d="M154.5 374.0 C154.8 373.6 155.3 371.8 156.0 371.5 C156.7 371.2 157.9 371.4 158.5 372.0 C159.1 372.6 159.5 374.0 159.5 375.0 C159.5 376.0 158.8 377.2 158.5 378.0 C158.2 378.8 157.9 379.9 157.5 380.0 C157.1 380.1 156.4 379.1 156.0 378.5 C155.6 377.9 155.2 377.2 155.0 376.5 C154.8 375.8 154.6 374.4 154.5 374.0"/>
<path d="M150.5 391.0 C150.7 390.5 150.9 388.7 151.5 388.0 C152.1 387.3 153.0 386.9 154.0 386.8 C155.0 386.7 156.6 386.8 157.5 387.3 C158.4 387.8 159.2 389.0 159.5 390.0 C159.8 391.0 159.7 392.6 159.3 393.5 C158.9 394.4 158.1 395.2 157.0 395.5 C155.9 395.8 154.0 395.8 153.0 395.5 C152.0 395.2 151.4 394.2 151.0 393.5 C150.6 392.8 150.6 391.4 150.5 391.0"/>
<path d="M152.5 390.3 L155.0 390.2"/>
<path d="M144.0 399.0 C144.3 398.6 145.2 397.1 146.0 396.5 C146.8 395.9 148.2 395.4 149.0 395.5 C149.8 395.6 150.2 396.7 151.0 397.0 C151.8 397.3 152.8 397.6 154.0 397.5 C155.2 397.4 156.7 397.1 158.0 396.5 C159.3 395.9 160.8 394.1 162.0 394.0 C163.2 393.9 164.0 395.3 165.0 396.0 C166.0 396.7 167.0 397.4 168.0 398.0 C169.0 398.6 170.5 399.2 171.0 399.5"/>
<path d="M170.0 365.0 C169.8 365.2 168.8 365.8 168.5 366.5 C168.2 367.2 168.1 368.7 168.3 369.5 C168.6 370.3 169.7 371.2 170.0 371.5"/>
<path d="M174.5 376.0 C174.8 376.4 175.9 377.8 176.0 378.5 C176.1 379.2 175.2 380.2 175.0 380.5"/>
<path d="M145.0 382.0 C145.3 382.7 146.8 384.5 147.0 386.0 C147.2 387.5 145.9 389.5 146.0 391.0 C146.1 392.5 147.2 394.3 147.5 395.0"/>
<path d="M100.0 406.3 L101.0 406.4 L102.0 406.4 L103.0 406.2 L104.0 406.0 L105.1 405.8 L106.1 405.6 L107.1 405.4 L108.1 405.4 L109.1 405.5 L110.1 405.8 L111.1 406.1 L112.1 406.4 L113.1 406.7 L114.2 406.9 L115.2 407.1 L116.2 407.1 L117.2 406.9 L118.2 406.7 L119.2 406.5 L120.2 406.2 L121.2 406.0 L122.2 406.0 L123.3 406.0 L124.3 406.2 L125.3 406.4 L126.3 406.6 L127.3 406.7 L128.3 406.8 L129.3 406.8 L130.3 406.7 L131.3 406.4 L132.4 406.1 L133.4 405.8 L134.4 405.5 L135.4 405.3 L136.4 405.2 L137.4 405.3 L138.4 405.5 L139.4 405.8 L140.4 406.0 L141.5 406.3 L142.5 406.5 L143.5 406.5 L144.5 406.5 L145.5 406.3 L146.5 406.1 L147.5 405.9 L148.5 405.8 L149.5 405.7 L150.6 405.8 L151.6 406.0 L152.6 406.2 L153.6 406.5 L154.6 406.8 L155.6 407.1 L156.6 407.2 L157.6 407.2 L158.6 407.0 L159.7 406.8 L160.7 406.5 L161.7 406.2 L162.7 405.9 L163.7 405.8 L164.7 405.7 L165.7 405.8 L166.7 406.0 L167.7 406.2 L168.8 406.3 L169.8 406.5 L170.8 406.5 L171.8 406.4 L172.8 406.3 L173.8 406.0 L174.8 405.7 L175.8 405.5 L176.8 405.3 L177.9 405.2 L178.9 405.3 L179.9 405.5 L180.9 405.8 L181.9 406.1 L182.9 406.4 L183.9 406.7 L184.9 406.8 L185.9 406.8 L187.0 406.7 L188.0 407.0 L189.0 407.3 L190.0 407.6 L191.0 408.0"/>
<path d="M100.0 404.5 L101.0 404.4 L102.0 404.2 L103.0 404.0 L104.0 403.8 L105.1 403.8 L106.1 403.9 L107.1 404.1 L108.1 404.4 L109.1 404.7 L110.1 405.0 L111.1 405.3 L112.1 405.4 L113.2 405.4 L114.2 405.2 L115.2 405.0 L116.2 404.7 L117.2 404.4 L118.2 404.2 L119.2 404.1 L120.2 404.1 L121.2 404.2 L122.3 404.3 L123.3 404.5 L124.3 404.7 L125.3 404.8 L126.3 404.8 L127.3 404.7 L128.3 404.5 L129.3 404.2 L130.3 403.9 L131.4 403.6 L132.4 403.4 L133.4 403.4 L134.4 403.5 L135.4 403.7 L136.4 404.0 L137.4 404.3 L138.4 404.6 L139.5 404.8 L140.5 404.9 L141.5 404.9 L142.5 404.8 L143.5 404.6 L144.5 404.4 L145.5 404.2 L146.5 404.1 L147.5 404.1 L148.6 404.3 L149.6 404.5 L150.6 404.8 L151.6 405.0 L152.6 405.2 L153.6 405.3 L154.6 405.3 L155.6 405.2 L156.7 404.9 L157.7 404.6 L158.7 404.3 L159.7 404.0 L160.7 403.8 L161.7 403.7 L162.7 403.8 L163.7 403.9 L164.7 404.2 L165.8 404.4 L166.8 404.5 L167.8 404.6 L168.8 404.6 L169.8 404.4 L170.8 404.2 L171.8 404.0 L172.8 403.7 L173.8 403.6 L174.9 403.6 L175.9 403.6 L176.9 403.8 L177.9 404.1 L178.9 404.5 L179.9 404.8 L180.9 405.1 L181.9 405.2 L183.0 405.2 L184.0 405.6 L185.0 405.9 L186.0 406.2 L187.0 406.4"/>
<path d="M112.0 402.8 L113.0 402.4 L114.1 402.1 L115.1 401.9 L116.1 401.7 L117.2 401.7 L118.2 401.7 L119.2 401.9 L120.3 402.1 L121.3 402.3 L122.3 402.4 L123.4 402.5 L124.4 402.4 L125.4 402.2 L126.5 401.9 L127.5 401.6 L128.6 401.4 L129.6 401.3 L130.6 401.3 L131.7 401.4 L132.7 401.7 L133.7 402.0 L134.8 402.4 L135.8 402.6 L136.8 402.8 L137.9 402.9 L138.9 403.3 L139.9 403.6 L141.0 403.9 L142.0 404.2"/>
<path d="M143.0 402.5 L144.0 402.6 L145.1 402.9 L146.1 403.1 L147.1 403.2 L148.1 403.2 L149.2 403.1 L150.2 402.9 L151.2 402.6 L152.2 402.3 L153.3 402.0 L154.3 401.7 L155.3 401.6 L156.4 401.7 L157.4 401.8 L158.4 402.1 L159.4 402.4 L160.5 402.6 L161.5 402.8 L162.5 402.9 L163.6 402.9 L164.6 402.8 L165.6 402.6 L166.6 402.4 L167.7 402.2 L168.7 402.1 L169.7 402.2 L170.8 402.3 L171.8 402.6 L172.8 402.9 L173.8 403.2 L174.9 403.5 L175.9 403.6 L176.9 404.0 L177.9 404.4 L179.0 404.7 L180.0 404.9"/>
<path d="M100.0 402.6 L103.0 407.6"/>
<path d="M102.0 402.6 L105.0 407.6"/>
<path d="M104.0 402.6 L107.0 407.6"/>
<path d="M106.0 402.6 L109.0 407.6"/>
<path d="M108.0 402.6 L111.0 407.6"/>
<path d="M110.0 402.6 L113.0 407.6"/>
<path d="M143.0 402.6 L146.0 407.6"/>
<path d="M144.9 402.6 L147.9 407.6"/>
<path d="M146.8 402.6 L149.8 407.6"/>
<path d="M148.7 402.6 L151.7 407.6"/>
<path d="M150.6 402.6 L153.6 407.6"/>
<path d="M152.5 402.6 L155.5 407.6"/>
<path d="M154.4 402.6 L157.4 407.6"/>
<path d="M156.3 402.6 L159.3 407.6"/>
<path d="M158.2 402.6 L161.2 407.6"/>
<path d="M160.1 402.6 L163.1 407.6"/>
<path d="M162.0 402.6 L165.0 407.6"/>
<path d="M163.9 402.6 L166.9 407.6"/>
<path d="M165.8 402.6 L168.8 407.6"/>
<path d="M167.7 402.6 L170.7 407.6"/>
<path d="M169.6 402.6 L172.6 407.6"/>
<path d="M171.5 402.6 L174.5 407.6"/>
<path d="M173.4 402.6 L176.4 407.6"/>
<path d="M175.3 402.7 L178.3 407.6"/>
<path d="M177.2 403.3 L180.2 407.6"/>
<path d="M179.1 403.8 L182.1 407.6"/>
<path d="M181.0 404.4 L184.0 407.6"/>
<path d="M182.9 405.0 L185.9 407.6"/>
<path d="M111.8 371.0 L113.2 372.6 L117.0 374.2"/>
<path d="M111.8 371.2 L112.6 372.5 L111.8 374.2Z"/>
<path d="M105.2 338.3 L105.1 338.8 L104.9 339.3 L104.6 339.7 L104.2 340.0 L103.7 340.2 L103.2 340.2 L102.7 340.1 L102.2 339.9 L101.8 339.5 L101.6 339.1 L101.4 338.6 L101.4 338.0 L101.6 337.5 L101.8 337.1 L102.2 336.7 L102.7 336.5 L103.2 336.4 L103.7 336.4 L104.2 336.6 L104.6 336.9 L104.9 337.3 L105.1 337.8 L105.2 338.3Z"/>
<path d="M119.5 374.2 L119.5 374.5 L119.3 374.8 L119.1 375.1 L118.9 375.3 L118.5 375.4 L118.2 375.4 L117.9 375.3 L117.6 375.2 L117.4 375.0 L117.2 374.7 L117.1 374.4 L117.1 374.0 L117.2 373.7 L117.4 373.4 L117.6 373.2 L117.9 373.1 L118.2 373.0 L118.5 373.0 L118.9 373.1 L119.1 373.3 L119.3 373.6 L119.5 373.9 L119.5 374.2Z"/>
</g><circle cx="88" cy="324.6" r="1.3" fill="#9a9a9a"/><circle cx="163.3" cy="313.6" r="0.9" fill="#222"/>

<g fill="none" stroke="#555" stroke-width="1.4">
<path d="M53.6 232 H246.3"/>
</g>
<g fill="none" stroke="#8a8a8a" stroke-width="1.1">
<path d="M246.3 232 V408.2"/>
</g>
<g fill="none" stroke="#111" stroke-width="1.2">
<path d="M53.6 232 V408.2 H246.3"/>
</g>
<g fill="none" stroke="#555" stroke-width="1.2">
<path d="M111.7 232.5 V408"/>
</g>
<g fill="none" stroke="#1a1a1a" stroke-width="1.3">
<path d="M53.5 360.4 H246.3"/>
</g>
<g fill="none" stroke="#000" stroke-width="2.6">
<rect x="113.6" y="291.8" width="22.8" height="60.3"/>
<rect x="141.7" y="290.6" width="31.6" height="62.2"/>
<rect x="141.9" y="362.4" width="30.8" height="38.3"/>
</g>
<g stroke="#000" stroke-width="2.6" stroke-linecap="butt">
<line x1="120.5" y1="258" x2="123.5" y2="300.7"/>
<line x1="174.3" y1="279.6" x2="153.5" y2="312"/>
</g>

<g fill="#000">
<rect x="325.5" y="9" width="2.2" height="100.3"/>
<rect x="319.5" y="9" width="7" height="2.2"/>
<rect x="319.5" y="59" width="7" height="2.2"/>
<rect x="319.5" y="107.2" width="198" height="2.3"/>
<rect x="334.6" y="76.0" width="24.00" height="32.00"/>
<rect x="340.2" y="70.0" width="12.80" height="2.3"/>
<rect x="345.50" y="70.0" width="2.2" height="6.50"/>
<rect x="363.2" y="9.7" width="24.30" height="98.30"/>
<rect x="368.9" y="3.4" width="13.00" height="2.3"/>
<rect x="374.30" y="3.4" width="2.2" height="6.80"/>
<rect x="392.7" y="98.0" width="24.80" height="10.00"/>
<rect x="398.5" y="94.0" width="12.80" height="2.3"/>
<rect x="403.80" y="94.0" width="2.2" height="4.50"/>
<rect x="325" y="133" width="2.2" height="197.7"/>
<rect x="319.3" y="133.10" width="7" height="2.2"/>
<rect x="319.3" y="182.30" width="7" height="2.2"/>
<rect x="319.3" y="230.90" width="7" height="2.2"/>
<rect x="319.3" y="279.70" width="7" height="2.2"/>
<rect x="319.3" y="328.3" width="198.2" height="2.4"/>
<rect x="334.1" y="306.3" width="24.00" height="22.70"/>
<rect x="339.0" y="302.3" width="13.70" height="2.3"/>
<rect x="344.75" y="302.3" width="2.2" height="4.50"/>
<rect x="364.1" y="238.0" width="23.60" height="91.00"/>
<rect x="369.0" y="228.4" width="13.30" height="2.3"/>
<rect x="374.55" y="228.4" width="2.2" height="10.10"/>
<rect x="393.0" y="152.0" width="24.30" height="177.00"/>
<rect x="399.0" y="145.0" width="12.70" height="2.3"/>
<rect x="404.25" y="145.0" width="2.2" height="7.50"/>
<rect x="424.9" y="225.7" width="23.90" height="103.30"/>
<rect x="430.0" y="209.0" width="13.30" height="2.3"/>
<rect x="435.55" y="209.0" width="2.2" height="17.20"/>
<rect x="455.0" y="283.8" width="24.20" height="45.20"/>
<rect x="460.0" y="272.2" width="13.70" height="2.3"/>
<rect x="465.75" y="272.2" width="2.2" height="12.10"/>
<rect x="485.5" y="313.0" width="24.50" height="16.00"/>
<rect x="490.8" y="309.2" width="13.40" height="2.3"/>
<rect x="496.40" y="309.2" width="2.2" height="4.30"/>
<rect x="340.20" y="344.90" width="9.6" height="2.2"/>
<rect x="343.90" y="341.30" width="2.2" height="9.4"/>
<rect x="370.60" y="344.90" width="9.6" height="2.2"/>
<rect x="374.30" y="341.30" width="2.2" height="9.4"/>
<rect x="401.60" y="344.90" width="9.6" height="2.2"/>
<rect x="405.30" y="341.30" width="2.2" height="9.4"/>
<rect x="434.50" y="344.80" width="5" height="2.4"/>
<rect x="464.50" y="344.80" width="5" height="2.4"/>
<rect x="494.50" y="344.80" width="5" height="2.4"/>
<rect x="342.50" y="368.20" width="5" height="2.4"/>
<rect x="372.90" y="368.20" width="5" height="2.4"/>
<rect x="401.60" y="368.30" width="9.6" height="2.2"/>
<rect x="405.30" y="364.70" width="2.2" height="9.4"/>
<rect x="432.20" y="368.30" width="9.6" height="2.2"/>
<rect x="435.90" y="364.70" width="2.2" height="9.4"/>
<rect x="462.20" y="368.30" width="9.6" height="2.2"/>
<rect x="465.90" y="364.70" width="2.2" height="9.4"/>
<rect x="494.50" y="368.20" width="5" height="2.4"/>
<rect x="342.50" y="390.00" width="5" height="2.4"/>
<rect x="372.90" y="390.00" width="5" height="2.4"/>
<rect x="403.90" y="390.00" width="5" height="2.4"/>
<rect x="342.50" y="416.10" width="5" height="2.4"/>
<rect x="370.60" y="416.20" width="9.6" height="2.2"/>
<rect x="374.30" y="412.60" width="2.2" height="9.4"/>
<rect x="401.60" y="416.20" width="9.6" height="2.2"/>
<rect x="405.30" y="412.60" width="2.2" height="9.4"/>
<rect x="432.20" y="416.20" width="9.6" height="2.2"/>
<rect x="435.90" y="412.60" width="2.2" height="9.4"/>
<rect x="462.20" y="416.20" width="9.6" height="2.2"/>
<rect x="465.90" y="412.60" width="2.2" height="9.4"/>
<rect x="492.20" y="416.20" width="9.6" height="2.2"/>
<rect x="495.90" y="412.60" width="2.2" height="9.4"/>
</g>
<g class="b">
<g transform="translate(263.54,21.00) scale(1.0198,1)"><text x="0" y="0" font-size="25.73" font-weight="bold" xml:space="preserve">B</text></g>
<g transform="translate(296.43,17.30) scale(1.0882,1)"><text x="0" y="0" font-size="16.18" font-weight="bold" xml:space="preserve">40</text></g>
<g transform="translate(295.88,65.50) scale(1.0684,1)"><text x="0" y="0" font-size="16.61" font-weight="bold" xml:space="preserve">20</text></g>
<g transform="translate(305.58,112.20) scale(1.1584,1)"><text x="0" y="0" font-size="15.61" font-weight="bold" xml:space="preserve">0</text></g>
<g transform="translate(296.56,140.40) scale(1.1279,1)"><text x="0" y="0" font-size="15.18" font-weight="bold" xml:space="preserve">80</text></g>
<g transform="translate(296.47,189.20) scale(1.1332,1)"><text x="0" y="0" font-size="15.18" font-weight="bold" xml:space="preserve">60</text></g>
<g transform="translate(296.84,237.60) scale(1.1102,1)"><text x="0" y="0" font-size="15.18" font-weight="bold" xml:space="preserve">40</text></g>
<g transform="translate(296.50,286.40) scale(1.1311,1)"><text x="0" y="0" font-size="15.18" font-weight="bold" xml:space="preserve">20</text></g>
<g transform="translate(305.58,330.70) scale(1.3432,1)"><text x="0" y="0" font-size="13.46" font-weight="bold" xml:space="preserve">0</text></g>
<g transform="translate(426.97,21.00) scale(1.0419,1)"><text x="0" y="0" font-size="17.19" font-weight="bold" xml:space="preserve">GATA-2</text></g>
<g transform="translate(436.42,41.80) scale(1.1211,1)"><text x="0" y="0" font-size="16.01" font-weight="bold" xml:space="preserve">/ GAPDH</text></g>
<g transform="translate(427.97,147.10) scale(1.0318,1)"><text x="0" y="0" font-size="17.33" font-weight="bold" xml:space="preserve">GATA- </text><path d="M58.91 0.00 L58.91 -9.90 L56.05 -8.11 L56.05 -9.98 L59.04 -11.92 L61.29 -11.92 L61.29 0.00Z"/></g>
<g transform="translate(436.72,168.00) scale(1.1524,1)"><text x="0" y="0" font-size="15.59" font-weight="bold" xml:space="preserve">/ GAPDH</text></g>
<g transform="translate(283.70,252.19) rotate(-90) scale(1.0109,1)"><text x="0" y="0" font-size="17.66" font-weight="bold" xml:space="preserve">Relative mRNA levels</text></g>
<g transform="translate(286.01,353.30) scale(1.1214,1)"><text x="0" y="0" font-size="15.73" font-weight="bold" xml:space="preserve">c-Kit</text></g>
<g transform="translate(281.25,375.90) scale(1.0768,1)"><text x="0" y="0" font-size="16.90" font-weight="bold" xml:space="preserve">CD7 </text><path d="M37.75 0.00 L37.75 -9.65 L34.96 -7.91 L34.96 -9.74 L37.88 -11.63 L40.07 -11.63 L40.07 0.00Z"/></g>
<g transform="translate(269.41,399.40) scale(0.9733,1)"><text x="0" y="0" font-size="17.76" font-weight="bold" xml:space="preserve">Ter  9</text><path d="M31.78 0.00 L31.78 -10.15 L28.85 -8.32 L28.85 -10.23 L31.91 -12.22 L34.22 -12.22 L34.22 0.00Z M41.66 0.00 L41.66 -10.15 L38.73 -8.32 L38.73 -10.23 L41.79 -12.22 L44.09 -12.22 L44.09 0.00Z"/></g>
<g transform="translate(290.11,422.30) scale(0.9200,1)"><text x="0" y="0" font-size="18.33" font-weight="bold" xml:space="preserve">GFP</text></g>
<g transform="translate(423.65,396.30) scale(0.9889,1)"><text x="0" y="0" font-size="15.18" font-weight="bold" xml:space="preserve">low</text></g>
<g transform="translate(460.55,396.30) scale(1.0831,1)"><text x="0" y="0" font-size="15.18" font-weight="bold" xml:space="preserve">hi</text></g>
<g transform="translate(491.06,396.30) scale(1.0743,1)"><text x="0" y="0" font-size="15.18" font-weight="bold" xml:space="preserve">hi</text></g>
<g transform="translate(357.93,445.00) scale(0.9169,1)"><text x="0" y="0" font-size="15.84" font-weight="bold" xml:space="preserve">EEP</text></g>
<g transform="translate(394.90,445.00) scale(0.9448,1)"><text x="0" y="0" font-size="15.84" font-weight="bold" xml:space="preserve">LEP</text></g>
<g transform="translate(434.58,444.80) scale(1.2971,1)"><text x="0" y="0" font-size="15.73" font-weight="bold" xml:space="preserve">i</text></g>
<g transform="translate(462.86,444.80) scale(1.0414,1)"><text x="0" y="0" font-size="15.73" font-weight="bold" xml:space="preserve">ii</text></g>
<g transform="translate(489.43,444.80) scale(1.0642,1)"><text x="0" y="0" font-size="15.73" font-weight="bold" xml:space="preserve">iii</text></g>
<g transform="translate(1.34,248.00) scale(1.0084,1)"><text x="0" y="0" font-size="26.16" font-weight="bold" xml:space="preserve">A</text></g>
<g transform="translate(125.20,445.80) scale(1.0726,1)"><text x="0" y="0" font-size="16.61" font-weight="bold" xml:space="preserve">Ter  9</text><path d="M29.73 0.00 L29.73 -9.49 L26.99 -7.78 L26.99 -9.57 L29.85 -11.43 L32.01 -11.43 L32.01 0.00Z M38.97 0.00 L38.97 -9.49 L36.23 -7.78 L36.23 -9.57 L39.09 -11.43 L41.25 -11.43 L41.25 0.00Z"/></g>
<g transform="translate(16.80,348.14) rotate(-90) scale(1.0150,1)"><text x="0" y="0" font-size="17.76" font-weight="bold" xml:space="preserve">CD7 </text><path d="M39.67 0.00 L39.67 -10.15 L36.74 -8.32 L36.74 -10.23 L39.80 -12.22 L42.11 -12.22 L42.11 0.00Z"/></g>
<g transform="translate(115.42,254.20) scale(1.1529,1)"><text x="0" y="0" font-size="19.60" font-weight="bold" xml:space="preserve">i</text></g>
<g transform="translate(127.20,254.20) scale(1.0710,1)"><text x="0" y="0" font-size="16.80" font-weight="bold" xml:space="preserve">( .0%)</text><path d="M9.52 0.00 L9.52 -9.60 L6.74 -7.87 L6.74 -9.68 L9.64 -11.56 L11.82 -11.56 L11.82 0.00Z"/></g>
<g transform="translate(172.57,276.20) scale(1.0993,1)"><text x="0" y="0" font-size="18.63" font-weight="bold" xml:space="preserve">ii</text></g>
<g transform="translate(188.65,276.20) scale(1.0145,1)"><text x="0" y="0" font-size="16.80" font-weight="bold" xml:space="preserve">(2.0%)</text></g>
<g transform="translate(174.03,398.50) scale(1.0677,1)"><text x="0" y="0" font-size="19.73" font-weight="bold" xml:space="preserve">iii</text></g>
<g transform="translate(193.42,398.50) scale(1.0521,1)"><text x="0" y="0" font-size="16.80" font-weight="bold" xml:space="preserve">(0.6%)</text></g>
</g>
<g fill="#111" class="r">
<g transform="translate(51.54,425.60) scale(0.7723,1)"><text x="0" y="0" font-size="17.01" font-weight="normal" xml:space="preserve"> </text><path d="M4.28 0.00 L4.28 -10.27 L1.64 -8.39 L1.64 -9.80 L4.40 -11.70 L5.78 -11.70 L5.78 0.00Z"/></g>
<g transform="translate(58.43,425.80) scale(0.7056,1)"><text x="0" y="0" font-size="16.90" font-weight="normal" xml:space="preserve">0</text></g>
<g transform="translate(65.54,420.60) scale(0.8135,1)"><text x="0" y="0" font-size="11.31" font-weight="normal" xml:space="preserve">0</text></g>
<g transform="translate(96.64,425.60) scale(0.7723,1)"><text x="0" y="0" font-size="17.01" font-weight="normal" xml:space="preserve"> </text><path d="M4.28 0.00 L4.28 -10.27 L1.64 -8.39 L1.64 -9.80 L4.40 -11.70 L5.78 -11.70 L5.78 0.00Z"/></g>
<g transform="translate(103.53,425.80) scale(0.7056,1)"><text x="0" y="0" font-size="16.90" font-weight="normal" xml:space="preserve">0</text></g>
<g transform="translate(111.47,420.60) scale(0.7506,1)"><text x="0" y="0" font-size="11.48" font-weight="normal" xml:space="preserve"> </text><path d="M2.89 0.00 L2.89 -6.94 L1.10 -5.66 L1.10 -6.62 L2.97 -7.90 L3.90 -7.90 L3.90 0.00Z"/></g>
<g transform="translate(141.04,425.60) scale(0.7723,1)"><text x="0" y="0" font-size="17.01" font-weight="normal" xml:space="preserve"> </text><path d="M4.28 0.00 L4.28 -10.27 L1.64 -8.39 L1.64 -9.80 L4.40 -11.70 L5.78 -11.70 L5.78 0.00Z"/></g>
<g transform="translate(147.93,425.80) scale(0.7056,1)"><text x="0" y="0" font-size="16.90" font-weight="normal" xml:space="preserve">0</text></g>
<g transform="translate(155.05,420.60) scale(0.7954,1)"><text x="0" y="0" font-size="11.31" font-weight="normal" xml:space="preserve">2</text></g>
<g transform="translate(186.04,425.60) scale(0.7723,1)"><text x="0" y="0" font-size="17.01" font-weight="normal" xml:space="preserve"> </text><path d="M4.28 0.00 L4.28 -10.27 L1.64 -8.39 L1.64 -9.80 L4.40 -11.70 L5.78 -11.70 L5.78 0.00Z"/></g>
<g transform="translate(192.93,425.80) scale(0.7056,1)"><text x="0" y="0" font-size="16.90" font-weight="normal" xml:space="preserve">0</text></g>
<g transform="translate(200.17,420.60) scale(0.7643,1)"><text x="0" y="0" font-size="11.31" font-weight="normal" xml:space="preserve">3</text></g>
<g transform="translate(231.24,425.60) scale(0.7723,1)"><text x="0" y="0" font-size="17.01" font-weight="normal" xml:space="preserve"> </text><path d="M4.28 0.00 L4.28 -10.27 L1.64 -8.39 L1.64 -9.80 L4.40 -11.70 L5.78 -11.70 L5.78 0.00Z"/></g>
<g transform="translate(238.13,425.80) scale(0.7056,1)"><text x="0" y="0" font-size="16.90" font-weight="normal" xml:space="preserve">0</text></g>
<g transform="translate(245.30,420.60) scale(0.7777,1)"><text x="0" y="0" font-size="11.48" font-weight="normal" xml:space="preserve">4</text></g>
<g transform="translate(48.20,248.26) rotate(-90) scale(0.7657,1)"><text x="0" y="0" font-size="17.15" font-weight="normal" xml:space="preserve"> </text><path d="M4.31 0.00 L4.31 -10.36 L1.65 -8.46 L1.65 -9.88 L4.44 -11.80 L5.83 -11.80 L5.83 0.00Z"/></g>
<g transform="translate(48.30,241.25) rotate(-90) scale(0.6639,1)"><text x="0" y="0" font-size="17.33" font-weight="normal" xml:space="preserve">0</text></g>
<g transform="translate(43.80,234.57) rotate(-90) scale(0.5963,1)"><text x="0" y="0" font-size="12.65" font-weight="normal" xml:space="preserve">4</text></g>
<g transform="translate(48.20,289.26) rotate(-90) scale(0.7657,1)"><text x="0" y="0" font-size="17.15" font-weight="normal" xml:space="preserve"> </text><path d="M4.31 0.00 L4.31 -10.36 L1.65 -8.46 L1.65 -9.88 L4.44 -11.80 L5.83 -11.80 L5.83 0.00Z"/></g>
<g transform="translate(48.30,282.25) rotate(-90) scale(0.6639,1)"><text x="0" y="0" font-size="17.33" font-weight="normal" xml:space="preserve">0</text></g>
<g transform="translate(43.80,275.71) rotate(-90) scale(0.6433,1)"><text x="0" y="0" font-size="12.46" font-weight="normal" xml:space="preserve">3</text></g>
<g transform="translate(48.20,330.26) rotate(-90) scale(0.7657,1)"><text x="0" y="0" font-size="17.15" font-weight="normal" xml:space="preserve"> </text><path d="M4.31 0.00 L4.31 -10.36 L1.65 -8.46 L1.65 -9.88 L4.44 -11.80 L5.83 -11.80 L5.83 0.00Z"/></g>
<g transform="translate(48.30,323.25) rotate(-90) scale(0.6639,1)"><text x="0" y="0" font-size="17.33" font-weight="normal" xml:space="preserve">0</text></g>
<g transform="translate(43.80,316.82) rotate(-90) scale(0.6695,1)"><text x="0" y="0" font-size="12.46" font-weight="normal" xml:space="preserve">2</text></g>
<g transform="translate(48.20,372.26) rotate(-90) scale(0.7657,1)"><text x="0" y="0" font-size="17.15" font-weight="normal" xml:space="preserve"> </text><path d="M4.31 0.00 L4.31 -10.36 L1.65 -8.46 L1.65 -9.88 L4.44 -11.80 L5.83 -11.80 L5.83 0.00Z"/></g>
<g transform="translate(48.30,365.25) rotate(-90) scale(0.6639,1)"><text x="0" y="0" font-size="17.33" font-weight="normal" xml:space="preserve">0</text></g>
<g transform="translate(43.80,359.90) rotate(-90) scale(1.2333,1)"><text x="0" y="0" font-size="12.65" font-weight="normal" xml:space="preserve"> </text><path d="M3.18 0.00 L3.18 -7.64 L1.22 -6.24 L1.22 -7.29 L3.27 -8.70 L4.30 -8.70 L4.30 0.00Z"/></g>
<g transform="translate(48.20,413.66) rotate(-90) scale(0.7657,1)"><text x="0" y="0" font-size="17.15" font-weight="normal" xml:space="preserve"> </text><path d="M4.31 0.00 L4.31 -10.36 L1.65 -8.46 L1.65 -9.88 L4.44 -11.80 L5.83 -11.80 L5.83 0.00Z"/></g>
<g transform="translate(48.30,406.65) rotate(-90) scale(0.6639,1)"><text x="0" y="0" font-size="17.33" font-weight="normal" xml:space="preserve">0</text></g>
<g transform="translate(43.80,400.11) rotate(-90) scale(0.6380,1)"><text x="0" y="0" font-size="12.46" font-weight="normal" xml:space="preserve">0</text></g>
</g>
<g fill="#333">
<rect x="54.00" y="408.5" width="1" height="2.2"/>
<rect x="51.80" y="407.50" width="2.2" height="1"/>
<rect x="68.45" y="408.5" width="1" height="1.4"/>
<rect x="52.40" y="394.28" width="1.4" height="1"/>
<rect x="76.90" y="408.5" width="1" height="1.4"/>
<rect x="52.40" y="386.55" width="1.4" height="1"/>
<rect x="82.90" y="408.5" width="1" height="1.4"/>
<rect x="52.40" y="381.07" width="1.4" height="1"/>
<rect x="87.55" y="408.5" width="1" height="1.4"/>
<rect x="52.40" y="376.82" width="1.4" height="1"/>
<rect x="91.35" y="408.5" width="1" height="1.4"/>
<rect x="52.40" y="373.34" width="1.4" height="1"/>
<rect x="94.56" y="408.5" width="1" height="1.4"/>
<rect x="52.40" y="370.40" width="1.4" height="1"/>
<rect x="97.35" y="408.5" width="1" height="1.4"/>
<rect x="52.40" y="367.85" width="1.4" height="1"/>
<rect x="99.80" y="408.5" width="1" height="1.4"/>
<rect x="52.40" y="365.61" width="1.4" height="1"/>
<rect x="102.00" y="408.5" width="1" height="2.2"/>
<rect x="51.80" y="363.60" width="2.2" height="1"/>
<rect x="116.45" y="408.5" width="1" height="1.4"/>
<rect x="52.40" y="350.38" width="1.4" height="1"/>
<rect x="124.90" y="408.5" width="1" height="1.4"/>
<rect x="52.40" y="342.65" width="1.4" height="1"/>
<rect x="130.90" y="408.5" width="1" height="1.4"/>
<rect x="52.40" y="337.17" width="1.4" height="1"/>
<rect x="135.55" y="408.5" width="1" height="1.4"/>
<rect x="52.40" y="332.92" width="1.4" height="1"/>
<rect x="139.35" y="408.5" width="1" height="1.4"/>
<rect x="52.40" y="329.44" width="1.4" height="1"/>
<rect x="142.56" y="408.5" width="1" height="1.4"/>
<rect x="52.40" y="326.50" width="1.4" height="1"/>
<rect x="145.35" y="408.5" width="1" height="1.4"/>
<rect x="52.40" y="323.95" width="1.4" height="1"/>
<rect x="147.80" y="408.5" width="1" height="1.4"/>
<rect x="52.40" y="321.71" width="1.4" height="1"/>
<rect x="150.00" y="408.5" width="1" height="2.2"/>
<rect x="51.80" y="319.70" width="2.2" height="1"/>
<rect x="164.45" y="408.5" width="1" height="1.4"/>
<rect x="52.40" y="306.48" width="1.4" height="1"/>
<rect x="172.90" y="408.5" width="1" height="1.4"/>
<rect x="52.40" y="298.75" width="1.4" height="1"/>
<rect x="178.90" y="408.5" width="1" height="1.4"/>
<rect x="52.40" y="293.27" width="1.4" height="1"/>
<rect x="183.55" y="408.5" width="1" height="1.4"/>
<rect x="52.40" y="289.02" width="1.4" height="1"/>
<rect x="187.35" y="408.5" width="1" height="1.4"/>
<rect x="52.40" y="285.54" width="1.4" height="1"/>
<rect x="190.56" y="408.5" width="1" height="1.4"/>
<rect x="52.40" y="282.60" width="1.4" height="1"/>
<rect x="193.35" y="408.5" width="1" height="1.4"/>
<rect x="52.40" y="280.05" width="1.4" height="1"/>
<rect x="195.80" y="408.5" width="1" height="1.4"/>
<rect x="52.40" y="277.81" width="1.4" height="1"/>
<rect x="198.00" y="408.5" width="1" height="2.2"/>
<rect x="51.80" y="275.80" width="2.2" height="1"/>
<rect x="212.45" y="408.5" width="1" height="1.4"/>
<rect x="52.40" y="262.58" width="1.4" height="1"/>
<rect x="220.90" y="408.5" width="1" height="1.4"/>
<rect x="52.40" y="254.85" width="1.4" height="1"/>
<rect x="226.90" y="408.5" width="1" height="1.4"/>
<rect x="52.40" y="249.37" width="1.4" height="1"/>
<rect x="231.55" y="408.5" width="1" height="1.4"/>
<rect x="52.40" y="245.12" width="1.4" height="1"/>
<rect x="235.35" y="408.5" width="1" height="1.4"/>
<rect x="52.40" y="241.64" width="1.4" height="1"/>
<rect x="238.56" y="408.5" width="1" height="1.4"/>
<rect x="52.40" y="238.70" width="1.4" height="1"/>
<rect x="241.35" y="408.5" width="1" height="1.4"/>
<rect x="52.40" y="236.15" width="1.4" height="1"/>
<rect x="243.80" y="408.5" width="1" height="1.4"/>
<rect x="52.40" y="233.91" width="1.4" height="1"/>
</g>
</svg>
</body></html>
